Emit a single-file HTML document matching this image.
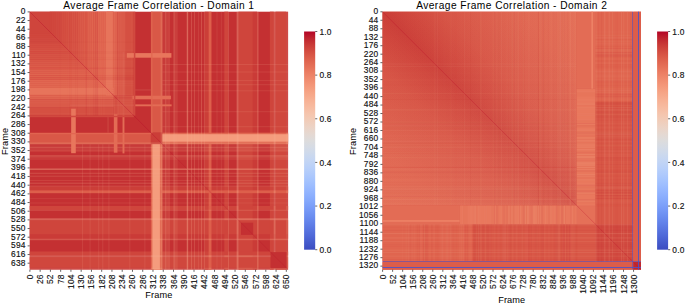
<!DOCTYPE html>
<html><head><meta charset="utf-8"><title>Average Frame Correlation</title>
<style>html,body{margin:0;padding:0;background:#fff;width:685px;height:304px;overflow:hidden}svg{display:block}</style>
</head><body><svg width="685" height="304" viewBox="0 0 685 304" font-family='"Liberation Sans", sans-serif'><defs><linearGradient id="cbg" x1="0" y1="0" x2="0" y2="1"><stop offset="0.0000" stop-color="#b40426"/><stop offset="0.0312" stop-color="#be242e"/><stop offset="0.0625" stop-color="#ca3b37"/><stop offset="0.0938" stop-color="#d44e41"/><stop offset="0.1250" stop-color="#dd5f4b"/><stop offset="0.1562" stop-color="#e46e56"/><stop offset="0.1875" stop-color="#eb7d62"/><stop offset="0.2188" stop-color="#f08b6e"/><stop offset="0.2500" stop-color="#f4987a"/><stop offset="0.2812" stop-color="#f6a586"/><stop offset="0.3125" stop-color="#f7b093"/><stop offset="0.3438" stop-color="#f7ba9f"/><stop offset="0.3750" stop-color="#f5c4ac"/><stop offset="0.4062" stop-color="#f1ccb8"/><stop offset="0.4375" stop-color="#ecd3c5"/><stop offset="0.4688" stop-color="#e5d8d1"/><stop offset="0.5000" stop-color="#dddcdc"/><stop offset="0.5312" stop-color="#d5dbe5"/><stop offset="0.5625" stop-color="#ccd9ed"/><stop offset="0.5938" stop-color="#c3d5f4"/><stop offset="0.6250" stop-color="#b9d0f9"/><stop offset="0.6562" stop-color="#aec9fc"/><stop offset="0.6875" stop-color="#a3c2fe"/><stop offset="0.7188" stop-color="#98b9ff"/><stop offset="0.7500" stop-color="#8db0fe"/><stop offset="0.7812" stop-color="#82a6fb"/><stop offset="0.8125" stop-color="#779af7"/><stop offset="0.8438" stop-color="#6c8ff1"/><stop offset="0.8750" stop-color="#6282ea"/><stop offset="0.9062" stop-color="#5875e1"/><stop offset="0.9375" stop-color="#4e68d8"/><stop offset="0.9688" stop-color="#445acc"/><stop offset="1.0000" stop-color="#3b4cc0"/></linearGradient></defs>
<g transform="translate(29.70,11.70) scale(1.00155,1.00000)"><rect x="0" y="0" width="258" height="258" fill="#c43032"/><rect x="0" y="0" width="84" height="84" fill="#cf453c"/><rect x="20" y="0" width="2" height="84" fill="#cf453c"/><rect x="0" y="20" width="84" height="2" fill="#cf453c"/><rect x="22" y="0" width="2" height="84" fill="#d0473d"/><rect x="0" y="22" width="84" height="2" fill="#d0473d"/><rect x="24" y="0" width="2" height="84" fill="#d0473d"/><rect x="0" y="24" width="84" height="2" fill="#d0473d"/><rect x="26" y="0" width="2" height="84" fill="#d1493f"/><rect x="0" y="26" width="84" height="2" fill="#d1493f"/><rect x="28" y="0" width="2" height="84" fill="#d1493f"/><rect x="0" y="28" width="84" height="2" fill="#d1493f"/><rect x="30" y="0" width="2" height="84" fill="#d24b40"/><rect x="0" y="30" width="84" height="2" fill="#d24b40"/><rect x="32" y="0" width="2" height="84" fill="#d44e41"/><rect x="0" y="32" width="84" height="2" fill="#d44e41"/><rect x="34" y="0" width="2" height="84" fill="#d44e41"/><rect x="0" y="34" width="84" height="2" fill="#d44e41"/><rect x="36" y="0" width="2" height="84" fill="#d55042"/><rect x="0" y="36" width="84" height="2" fill="#d55042"/><rect x="38" y="0" width="2" height="84" fill="#d65244"/><rect x="0" y="38" width="84" height="2" fill="#d65244"/><rect x="40" y="0" width="2" height="84" fill="#d65244"/><rect x="0" y="40" width="84" height="2" fill="#d65244"/><rect x="42" y="0" width="2" height="84" fill="#d75445"/><rect x="0" y="42" width="84" height="2" fill="#d75445"/><rect x="44" y="0" width="2" height="84" fill="#d75445"/><rect x="0" y="44" width="84" height="2" fill="#d75445"/><rect x="46" y="0" width="2" height="84" fill="#d85646"/><rect x="0" y="46" width="84" height="2" fill="#d85646"/><rect x="48" y="0" width="2" height="84" fill="#d95847"/><rect x="0" y="48" width="84" height="2" fill="#d95847"/><rect x="50" y="0" width="2" height="84" fill="#da5a49"/><rect x="0" y="50" width="84" height="2" fill="#da5a49"/><rect x="52" y="0" width="2" height="84" fill="#da5a49"/><rect x="0" y="52" width="84" height="2" fill="#da5a49"/><rect x="54" y="0" width="2" height="84" fill="#dc5d4a"/><rect x="0" y="54" width="84" height="2" fill="#dc5d4a"/><rect x="56" y="0" width="2" height="84" fill="#dd5f4b"/><rect x="0" y="56" width="84" height="2" fill="#dd5f4b"/><rect x="58" y="0" width="2" height="84" fill="#de614d"/><rect x="0" y="58" width="84" height="2" fill="#de614d"/><rect x="60" y="0" width="2" height="84" fill="#de614d"/><rect x="0" y="60" width="84" height="2" fill="#de614d"/><rect x="62" y="0" width="2" height="84" fill="#e0654f"/><rect x="0" y="62" width="84" height="2" fill="#e0654f"/><rect x="64" y="0" width="2" height="84" fill="#e0654f"/><rect x="0" y="64" width="84" height="2" fill="#e0654f"/><rect x="66" y="0" width="2" height="84" fill="#e0654f"/><rect x="0" y="66" width="84" height="2" fill="#e0654f"/><rect x="68" y="0" width="2" height="84" fill="#e16751"/><rect x="0" y="68" width="84" height="2" fill="#e16751"/><rect x="70" y="0" width="2" height="84" fill="#e16751"/><rect x="0" y="70" width="84" height="2" fill="#e16751"/><rect x="72" y="0" width="2" height="84" fill="#e16751"/><rect x="0" y="72" width="84" height="2" fill="#e16751"/><rect x="74" y="0" width="2" height="84" fill="#e16751"/><rect x="0" y="74" width="84" height="2" fill="#e16751"/><rect x="82" y="0" width="2" height="84" fill="#e16751"/><rect x="0" y="82" width="84" height="2" fill="#e16751"/><rect x="76" y="0" width="2" height="84" fill="#e7745b"/><rect x="0" y="76" width="84" height="2" fill="#e7745b"/><rect x="78" y="0" width="2" height="84" fill="#e7745b"/><rect x="0" y="78" width="84" height="2" fill="#e7745b"/><rect x="80" y="0" width="2" height="84" fill="#e7745b"/><rect x="0" y="80" width="84" height="2" fill="#e7745b"/><rect x="77" y="0" width="6" height="77" fill="#e7745b"/><rect x="0" y="77" width="77" height="6" fill="#e7745b"/><rect x="84" y="0" width="3.5" height="84" fill="#e16751"/><rect x="0" y="84" width="84" height="3.5" fill="#e16751"/><rect x="87.5" y="0" width="8.5" height="84" fill="#da5a49"/><rect x="0" y="87.5" width="84" height="8.5" fill="#da5a49"/><rect x="96" y="0" width="8" height="84" fill="#d55042"/><rect x="0" y="96" width="84" height="8" fill="#d55042"/><rect x="84" y="84" width="20" height="20" fill="#d65244"/><rect x="121" y="0" width="11.5" height="121" fill="#d95847"/><rect x="0" y="121" width="121" height="11.5" fill="#d95847"/><rect x="121" y="121" width="11.5" height="11.5" fill="#cb3e38"/><rect x="30" y="0" width="0.76" height="104" fill="#b40426" fill-opacity="0.045"/><rect x="0" y="30" width="104" height="0.76" fill="#b40426" fill-opacity="0.045"/><rect x="35.79" y="0" width="1.37" height="104" fill="#f7ac8e" fill-opacity="0.021"/><rect x="0" y="35.79" width="104" height="1.37" fill="#f7ac8e" fill-opacity="0.021"/><rect x="37.59" y="0" width="1.4" height="104" fill="#f7ac8e" fill-opacity="0.021"/><rect x="0" y="37.59" width="104" height="1.4" fill="#f7ac8e" fill-opacity="0.021"/><rect x="39.49" y="0" width="1.17" height="104" fill="#b40426" fill-opacity="0.045"/><rect x="0" y="39.49" width="104" height="1.17" fill="#b40426" fill-opacity="0.045"/><rect x="41.1" y="0" width="0.88" height="104" fill="#b40426" fill-opacity="0.045"/><rect x="0" y="41.1" width="104" height="0.88" fill="#b40426" fill-opacity="0.045"/><rect x="45.22" y="0" width="0.7" height="104" fill="#b40426" fill-opacity="0.045"/><rect x="0" y="45.22" width="104" height="0.7" fill="#b40426" fill-opacity="0.045"/><rect x="47.07" y="0" width="1.14" height="104" fill="#b40426" fill-opacity="0.045"/><rect x="0" y="47.07" width="104" height="1.14" fill="#b40426" fill-opacity="0.045"/><rect x="49.09" y="0" width="0.96" height="104" fill="#f7ac8e" fill-opacity="0.021"/><rect x="0" y="49.09" width="104" height="0.96" fill="#f7ac8e" fill-opacity="0.021"/><rect x="55.87" y="0" width="1.32" height="104" fill="#b40426" fill-opacity="0.099"/><rect x="0" y="55.87" width="104" height="1.32" fill="#b40426" fill-opacity="0.099"/><rect x="58.97" y="0" width="0.86" height="104" fill="#f7ac8e" fill-opacity="0.046"/><rect x="0" y="58.97" width="104" height="0.86" fill="#f7ac8e" fill-opacity="0.046"/><rect x="63.57" y="0" width="0.93" height="104" fill="#b40426" fill-opacity="0.099"/><rect x="0" y="63.57" width="104" height="0.93" fill="#b40426" fill-opacity="0.099"/><rect x="65.32" y="0" width="1.26" height="104" fill="#b40426" fill-opacity="0.099"/><rect x="0" y="65.32" width="104" height="1.26" fill="#b40426" fill-opacity="0.099"/><rect x="66.9" y="0" width="1.29" height="104" fill="#b40426" fill-opacity="0.099"/><rect x="0" y="66.9" width="104" height="1.29" fill="#b40426" fill-opacity="0.099"/><rect x="69.34" y="0" width="1.26" height="104" fill="#f7ac8e" fill-opacity="0.046"/><rect x="0" y="69.34" width="104" height="1.26" fill="#f7ac8e" fill-opacity="0.046"/><rect x="71.38" y="0" width="0.92" height="104" fill="#f7ac8e" fill-opacity="0.046"/><rect x="0" y="71.38" width="104" height="0.92" fill="#f7ac8e" fill-opacity="0.046"/><rect x="73.52" y="0" width="1.19" height="104" fill="#f7ac8e" fill-opacity="0.046"/><rect x="0" y="73.52" width="104" height="1.19" fill="#f7ac8e" fill-opacity="0.046"/><rect x="82.23" y="0" width="0.62" height="104" fill="#f7ac8e" fill-opacity="0.046"/><rect x="0" y="82.23" width="104" height="0.62" fill="#f7ac8e" fill-opacity="0.046"/><rect x="83.69" y="0" width="1.16" height="104" fill="#f7ac8e" fill-opacity="0.046"/><rect x="0" y="83.69" width="104" height="1.16" fill="#f7ac8e" fill-opacity="0.046"/><rect x="85.66" y="0" width="0.93" height="104" fill="#b40426" fill-opacity="0.099"/><rect x="0" y="85.66" width="104" height="0.93" fill="#b40426" fill-opacity="0.099"/><rect x="87.84" y="0" width="1.35" height="104" fill="#f7ac8e" fill-opacity="0.046"/><rect x="0" y="87.84" width="104" height="1.35" fill="#f7ac8e" fill-opacity="0.046"/><rect x="90.54" y="0" width="1.18" height="104" fill="#f7ac8e" fill-opacity="0.046"/><rect x="0" y="90.54" width="104" height="1.18" fill="#f7ac8e" fill-opacity="0.046"/><rect x="101.3" y="0" width="0.91" height="104" fill="#f7ac8e" fill-opacity="0.046"/><rect x="0" y="101.3" width="104" height="0.91" fill="#f7ac8e" fill-opacity="0.046"/><rect x="103.68" y="0" width="1.16" height="104" fill="#b40426" fill-opacity="0.099"/><rect x="0" y="103.68" width="104" height="1.16" fill="#b40426" fill-opacity="0.099"/><rect x="222.8" y="0" width="4.2" height="258" fill="#ca3b37"/><rect x="0" y="222.8" width="258" height="4.2" fill="#ca3b37"/><rect x="174.8" y="0" width="3.8" height="258" fill="#cb3e38"/><rect x="0" y="174.8" width="258" height="3.8" fill="#cb3e38"/><rect x="194.3" y="0" width="3.8" height="258" fill="#cf453c"/><rect x="0" y="194.3" width="258" height="3.8" fill="#cf453c"/><rect x="208.5" y="0" width="14.3" height="258" fill="#cf453c"/><rect x="0" y="208.5" width="258" height="14.3" fill="#cf453c"/><rect x="239.8" y="0" width="3.8" height="258" fill="#cf453c"/><rect x="0" y="239.8" width="258" height="3.8" fill="#cf453c"/><rect x="245.5" y="0" width="10.5" height="258" fill="#d0473d"/><rect x="0" y="245.5" width="258" height="10.5" fill="#d0473d"/><rect x="178.6" y="0" width="2.9" height="258" fill="#dd5f4b"/><rect x="0" y="178.6" width="258" height="2.9" fill="#dd5f4b"/><rect x="121" y="132.5" width="11.5" height="125.5" fill="#e16751"/><rect x="132.5" y="121" width="125.5" height="11.5" fill="#e16751"/><rect x="122.5" y="132.5" width="7.5" height="125.5" fill="#f59c7d"/><rect x="132.5" y="122.5" width="125.5" height="7.5" fill="#f59c7d"/><rect x="130.7" y="0" width="1.9" height="258" fill="#f7ac8e" fill-opacity="0.219"/><rect x="0" y="130.7" width="258" height="1.9" fill="#f7ac8e" fill-opacity="0.219"/><rect x="132.6" y="0" width="2.4" height="258" fill="#f7ac8e" fill-opacity="0.088"/><rect x="0" y="132.6" width="258" height="2.4" fill="#f7ac8e" fill-opacity="0.088"/><rect x="135" y="0" width="1.4" height="258" fill="#f7ac8e" fill-opacity="0.263"/><rect x="0" y="135" width="258" height="1.4" fill="#f7ac8e" fill-opacity="0.263"/><rect x="136.4" y="0" width="2.4" height="258" fill="#f7ac8e" fill-opacity="0.131"/><rect x="0" y="136.4" width="258" height="2.4" fill="#f7ac8e" fill-opacity="0.131"/><rect x="138.8" y="0" width="0.9" height="258" fill="#f7ac8e" fill-opacity="0.263"/><rect x="0" y="138.8" width="258" height="0.9" fill="#f7ac8e" fill-opacity="0.263"/><rect x="143.5" y="0" width="1.5" height="258" fill="#f7ac8e" fill-opacity="0.263"/><rect x="0" y="143.5" width="258" height="1.5" fill="#f7ac8e" fill-opacity="0.263"/><rect x="145" y="0" width="1.4" height="258" fill="#f7ac8e" fill-opacity="0.131"/><rect x="0" y="145" width="258" height="1.4" fill="#f7ac8e" fill-opacity="0.131"/><rect x="146.4" y="0" width="0.5" height="258" fill="#f7ac8e" fill-opacity="0.175"/><rect x="0" y="146.4" width="258" height="0.5" fill="#f7ac8e" fill-opacity="0.175"/><rect x="147.3" y="0" width="0.7" height="258" fill="#f7ac8e" fill-opacity="0.131"/><rect x="0" y="147.3" width="258" height="0.7" fill="#f7ac8e" fill-opacity="0.131"/><rect x="156.8" y="0" width="1.4" height="258" fill="#f7ac8e" fill-opacity="0.438"/><rect x="0" y="156.8" width="258" height="1.4" fill="#f7ac8e" fill-opacity="0.438"/><rect x="161.1" y="0" width="0.9" height="258" fill="#f7ac8e" fill-opacity="0.263"/><rect x="0" y="161.1" width="258" height="0.9" fill="#f7ac8e" fill-opacity="0.263"/><rect x="164" y="0" width="1" height="258" fill="#f7ac8e" fill-opacity="0.219"/><rect x="0" y="164" width="258" height="1" fill="#f7ac8e" fill-opacity="0.219"/><rect x="168.3" y="0" width="0.8" height="258" fill="#f7ac8e" fill-opacity="0.175"/><rect x="0" y="168.3" width="258" height="0.8" fill="#f7ac8e" fill-opacity="0.175"/><rect x="171" y="0" width="1" height="258" fill="#f7ac8e" fill-opacity="0.263"/><rect x="0" y="171" width="258" height="1" fill="#f7ac8e" fill-opacity="0.263"/><rect x="174" y="0" width="0.8" height="258" fill="#f7ac8e" fill-opacity="0.263"/><rect x="0" y="174" width="258" height="0.8" fill="#f7ac8e" fill-opacity="0.263"/><rect x="186.6" y="0" width="0.8" height="258" fill="#f7ac8e" fill-opacity="0.153"/><rect x="0" y="186.6" width="258" height="0.8" fill="#f7ac8e" fill-opacity="0.153"/><rect x="190.9" y="0" width="0.8" height="258" fill="#f7ac8e" fill-opacity="0.153"/><rect x="0" y="190.9" width="258" height="0.8" fill="#f7ac8e" fill-opacity="0.153"/><rect x="198.1" y="0" width="0.9" height="258" fill="#f7ac8e" fill-opacity="0.263"/><rect x="0" y="198.1" width="258" height="0.9" fill="#f7ac8e" fill-opacity="0.263"/><rect x="206.6" y="0" width="1.9" height="258" fill="#f7ac8e" fill-opacity="0.394"/><rect x="0" y="206.6" width="258" height="1.9" fill="#f7ac8e" fill-opacity="0.394"/><rect x="227" y="0" width="1.5" height="258" fill="#f7ac8e" fill-opacity="0.307"/><rect x="0" y="227" width="258" height="1.5" fill="#f7ac8e" fill-opacity="0.307"/><rect x="243.6" y="0" width="1.9" height="258" fill="#f7ac8e" fill-opacity="0.350"/><rect x="0" y="243.6" width="258" height="1.9" fill="#f7ac8e" fill-opacity="0.350"/><rect x="256" y="0" width="2" height="258" fill="#f7ac8e" fill-opacity="0.219"/><rect x="0" y="256" width="258" height="2" fill="#f7ac8e" fill-opacity="0.219"/><rect x="211" y="211" width="12.2" height="12.2" fill="#c43032"/><rect x="240.4" y="240.4" width="16.1" height="16.1" fill="#c43032"/><rect x="41.4" y="97" width="4.6" height="44.5" fill="#e8765c"/><rect x="97" y="41.4" width="44.5" height="4.6" fill="#e8765c"/><rect x="84" y="102.6" width="3.6" height="38.4" fill="#e36c55"/><rect x="102.6" y="84" width="38.4" height="3.6" fill="#e36c55"/><rect x="92.7" y="104" width="1.9" height="37.7" fill="#e36c55"/><rect x="104" y="92.7" width="37.7" height="1.9" fill="#e36c55"/><rect x="92.7" y="40" width="1.9" height="64" fill="#f7ac8e" fill-opacity="0.084"/><rect x="40" y="92.7" width="64" height="1.9" fill="#f7ac8e" fill-opacity="0.084"/><rect x="77.5" y="104" width="1.5" height="17" fill="#f7ac8e" fill-opacity="0.125"/><rect x="104" y="77.5" width="17" height="1.5" fill="#f7ac8e" fill-opacity="0.125"/><rect x="104" y="0" width="1.5" height="104" fill="#d1493f"/><rect x="0" y="104" width="104" height="1.5" fill="#d1493f"/><rect x="121.4" y="0" width="1.1" height="121.4" fill="#e16751"/><rect x="0" y="121.4" width="121.4" height="1.1" fill="#e16751"/><rect x="52.3" y="132.5" width="1" height="125.5" fill="#f7ac8e" fill-opacity="0.146"/><rect x="132.5" y="52.3" width="125.5" height="1" fill="#f7ac8e" fill-opacity="0.146"/><rect x="59.8" y="132.5" width="1" height="125.5" fill="#f7ac8e" fill-opacity="0.146"/><rect x="132.5" y="59.8" width="125.5" height="1" fill="#f7ac8e" fill-opacity="0.146"/><rect x="68.4" y="132.5" width="1" height="125.5" fill="#f7ac8e" fill-opacity="0.146"/><rect x="132.5" y="68.4" width="125.5" height="1" fill="#f7ac8e" fill-opacity="0.146"/><rect x="72.5" y="132.5" width="1" height="125.5" fill="#f7ac8e" fill-opacity="0.146"/><rect x="132.5" y="72.5" width="125.5" height="1" fill="#f7ac8e" fill-opacity="0.146"/><rect x="78.6" y="132.5" width="1" height="125.5" fill="#f7ac8e" fill-opacity="0.146"/><rect x="132.5" y="78.6" width="125.5" height="1" fill="#f7ac8e" fill-opacity="0.146"/><rect x="99.5" y="132.5" width="1" height="125.5" fill="#f7ac8e" fill-opacity="0.146"/><rect x="132.5" y="99.5" width="125.5" height="1" fill="#f7ac8e" fill-opacity="0.146"/><rect x="114.5" y="132.5" width="1" height="125.5" fill="#f7ac8e" fill-opacity="0.146"/><rect x="132.5" y="114.5" width="125.5" height="1" fill="#f7ac8e" fill-opacity="0.146"/><line x1="0" y1="0" x2="132" y2="132" stroke="#b40426" stroke-width="0.7" stroke-opacity="0.45"/><line x1="132" y1="132" x2="258" y2="258" stroke="#b40426" stroke-width="0.7" stroke-opacity="0.25"/></g>
<g transform="translate(382.50,11.70) scale(1.00194,1.00000)"><defs><linearGradient id="gM" gradientUnits="userSpaceOnUse" x1="0" y1="0" x2="96.9" y2="-96.9" spreadMethod="reflect"><stop offset="0.000" stop-color="#cb3e38"/><stop offset="0.100" stop-color="#cf453c"/><stop offset="0.300" stop-color="#d65244"/><stop offset="0.500" stop-color="#da5a49"/><stop offset="0.700" stop-color="#de614d"/><stop offset="1.000" stop-color="#e16751"/></linearGradient><linearGradient id="oX" x1="0" y1="0" x2="1" y2="0"><stop offset="0.000" stop-color="#f7ac8e" stop-opacity="0.0000"/><stop offset="0.300" stop-color="#f7ac8e" stop-opacity="0.0251"/><stop offset="0.600" stop-color="#f7ac8e" stop-opacity="0.0753"/><stop offset="1.000" stop-color="#f7ac8e" stop-opacity="0.1422"/></linearGradient><linearGradient id="oY" x1="0" y1="0" x2="0" y2="1"><stop offset="0.000" stop-color="#f7ac8e" stop-opacity="0.0000"/><stop offset="0.300" stop-color="#f7ac8e" stop-opacity="0.0251"/><stop offset="0.600" stop-color="#f7ac8e" stop-opacity="0.0753"/><stop offset="1.000" stop-color="#f7ac8e" stop-opacity="0.1422"/></linearGradient></defs><rect x="0" y="0" width="258" height="258" fill="#da5a49"/><rect x="0" y="0" width="193.8" height="193.8" fill="url(#gM)"/><rect x="0" y="0" width="193.8" height="193.8" fill="url(#oX)"/><rect x="0" y="0" width="193.8" height="193.8" fill="url(#oY)"/><rect x="51.74" y="0" width="1.18" height="193.8" fill="#f7ac8e" fill-opacity="0.081"/><rect x="0" y="51.74" width="193.8" height="1.18" fill="#f7ac8e" fill-opacity="0.081"/><rect x="190.41" y="0" width="0.94" height="193.8" fill="#f7ac8e" fill-opacity="0.027"/><rect x="0" y="190.41" width="193.8" height="0.94" fill="#f7ac8e" fill-opacity="0.027"/><rect x="81.29" y="0" width="0.9" height="193.8" fill="#f7ac8e" fill-opacity="0.088"/><rect x="0" y="81.29" width="193.8" height="0.9" fill="#f7ac8e" fill-opacity="0.088"/><rect x="98.59" y="0" width="0.47" height="193.8" fill="#f7ac8e" fill-opacity="0.097"/><rect x="0" y="98.59" width="193.8" height="0.47" fill="#f7ac8e" fill-opacity="0.097"/><rect x="72.82" y="0" width="0.85" height="193.8" fill="#b40426" fill-opacity="0.021"/><rect x="0" y="72.82" width="193.8" height="0.85" fill="#b40426" fill-opacity="0.021"/><rect x="132.36" y="0" width="1.35" height="193.8" fill="#f7ac8e" fill-opacity="0.067"/><rect x="0" y="132.36" width="193.8" height="1.35" fill="#f7ac8e" fill-opacity="0.067"/><rect x="179.82" y="0" width="0.53" height="193.8" fill="#f7ac8e" fill-opacity="0.084"/><rect x="0" y="179.82" width="193.8" height="0.53" fill="#f7ac8e" fill-opacity="0.084"/><rect x="142.89" y="0" width="0.87" height="193.8" fill="#f7ac8e" fill-opacity="0.062"/><rect x="0" y="142.89" width="193.8" height="0.87" fill="#f7ac8e" fill-opacity="0.062"/><rect x="97.27" y="0" width="0.88" height="193.8" fill="#f7ac8e" fill-opacity="0.091"/><rect x="0" y="97.27" width="193.8" height="0.88" fill="#f7ac8e" fill-opacity="0.091"/><rect x="158.22" y="0" width="0.71" height="193.8" fill="#f7ac8e" fill-opacity="0.044"/><rect x="0" y="158.22" width="193.8" height="0.71" fill="#f7ac8e" fill-opacity="0.044"/><rect x="109.65" y="0" width="0.75" height="193.8" fill="#f7ac8e" fill-opacity="0.052"/><rect x="0" y="109.65" width="193.8" height="0.75" fill="#f7ac8e" fill-opacity="0.052"/><rect x="110.61" y="0" width="1.12" height="193.8" fill="#f7ac8e" fill-opacity="0.097"/><rect x="0" y="110.61" width="193.8" height="1.12" fill="#f7ac8e" fill-opacity="0.097"/><rect x="67.75" y="0" width="1.14" height="193.8" fill="#f7ac8e" fill-opacity="0.057"/><rect x="0" y="67.75" width="193.8" height="1.14" fill="#f7ac8e" fill-opacity="0.057"/><rect x="137.57" y="0" width="0.92" height="193.8" fill="#f7ac8e" fill-opacity="0.021"/><rect x="0" y="137.57" width="193.8" height="0.92" fill="#f7ac8e" fill-opacity="0.021"/><rect x="54.19" y="0" width="1.11" height="193.8" fill="#f7ac8e" fill-opacity="0.079"/><rect x="0" y="54.19" width="193.8" height="1.11" fill="#f7ac8e" fill-opacity="0.079"/><rect x="186.95" y="0" width="1.08" height="193.8" fill="#f7ac8e" fill-opacity="0.047"/><rect x="0" y="186.95" width="193.8" height="1.08" fill="#f7ac8e" fill-opacity="0.047"/><rect x="131.14" y="0" width="0.64" height="193.8" fill="#b40426" fill-opacity="0.058"/><rect x="0" y="131.14" width="193.8" height="0.64" fill="#b40426" fill-opacity="0.058"/><rect x="170.48" y="0" width="0.87" height="193.8" fill="#b40426" fill-opacity="0.025"/><rect x="0" y="170.48" width="193.8" height="0.87" fill="#b40426" fill-opacity="0.025"/><rect x="87.48" y="0" width="0.86" height="193.8" fill="#b40426" fill-opacity="0.039"/><rect x="0" y="87.48" width="193.8" height="0.86" fill="#b40426" fill-opacity="0.039"/><rect x="61.05" y="0" width="0.74" height="193.8" fill="#f7ac8e" fill-opacity="0.046"/><rect x="0" y="61.05" width="193.8" height="0.74" fill="#f7ac8e" fill-opacity="0.046"/><rect x="123.87" y="0" width="0.81" height="193.8" fill="#f7ac8e" fill-opacity="0.086"/><rect x="0" y="123.87" width="193.8" height="0.81" fill="#f7ac8e" fill-opacity="0.086"/><rect x="176.74" y="0" width="0.92" height="193.8" fill="#f7ac8e" fill-opacity="0.086"/><rect x="0" y="176.74" width="193.8" height="0.92" fill="#f7ac8e" fill-opacity="0.086"/><rect x="184.35" y="0" width="1.07" height="193.8" fill="#b40426" fill-opacity="0.058"/><rect x="0" y="184.35" width="193.8" height="1.07" fill="#b40426" fill-opacity="0.058"/><rect x="113.41" y="0" width="1.28" height="193.8" fill="#f7ac8e" fill-opacity="0.061"/><rect x="0" y="113.41" width="193.8" height="1.28" fill="#f7ac8e" fill-opacity="0.061"/><rect x="176.77" y="0" width="1.12" height="193.8" fill="#f7ac8e" fill-opacity="0.076"/><rect x="0" y="176.77" width="193.8" height="1.12" fill="#f7ac8e" fill-opacity="0.076"/><rect x="115.8" y="0" width="0.76" height="193.8" fill="#b40426" fill-opacity="0.037"/><rect x="0" y="115.8" width="193.8" height="0.76" fill="#b40426" fill-opacity="0.037"/><rect x="160.27" y="0" width="1.13" height="193.8" fill="#b40426" fill-opacity="0.050"/><rect x="0" y="160.27" width="193.8" height="1.13" fill="#b40426" fill-opacity="0.050"/><rect x="110.6" y="0" width="0.82" height="193.8" fill="#f7ac8e" fill-opacity="0.026"/><rect x="0" y="110.6" width="193.8" height="0.82" fill="#f7ac8e" fill-opacity="0.026"/><rect x="155.37" y="0" width="1.01" height="193.8" fill="#b40426" fill-opacity="0.058"/><rect x="0" y="155.37" width="193.8" height="1.01" fill="#b40426" fill-opacity="0.058"/><rect x="120.74" y="0" width="0.63" height="193.8" fill="#f7ac8e" fill-opacity="0.032"/><rect x="0" y="120.74" width="193.8" height="0.63" fill="#f7ac8e" fill-opacity="0.032"/><rect x="128.78" y="0" width="0.97" height="193.8" fill="#f7ac8e" fill-opacity="0.086"/><rect x="0" y="128.78" width="193.8" height="0.97" fill="#f7ac8e" fill-opacity="0.086"/><rect x="181.81" y="0" width="0.43" height="193.8" fill="#f7ac8e" fill-opacity="0.088"/><rect x="0" y="181.81" width="193.8" height="0.43" fill="#f7ac8e" fill-opacity="0.088"/><rect x="191.72" y="0" width="0.67" height="193.8" fill="#f7ac8e" fill-opacity="0.094"/><rect x="0" y="191.72" width="193.8" height="0.67" fill="#f7ac8e" fill-opacity="0.094"/><rect x="186.19" y="0" width="0.6" height="193.8" fill="#f7ac8e" fill-opacity="0.081"/><rect x="0" y="186.19" width="193.8" height="0.6" fill="#f7ac8e" fill-opacity="0.081"/><rect x="180.84" y="0" width="0.57" height="193.8" fill="#f7ac8e" fill-opacity="0.088"/><rect x="0" y="180.84" width="193.8" height="0.57" fill="#f7ac8e" fill-opacity="0.088"/><rect x="156.07" y="0" width="0.56" height="193.8" fill="#f7ac8e" fill-opacity="0.044"/><rect x="0" y="156.07" width="193.8" height="0.56" fill="#f7ac8e" fill-opacity="0.044"/><rect x="177.7" y="0" width="0.44" height="193.8" fill="#f7ac8e" fill-opacity="0.051"/><rect x="0" y="177.7" width="193.8" height="0.44" fill="#f7ac8e" fill-opacity="0.051"/><rect x="115.33" y="0" width="0.55" height="193.8" fill="#f7ac8e" fill-opacity="0.065"/><rect x="0" y="115.33" width="193.8" height="0.55" fill="#f7ac8e" fill-opacity="0.065"/><rect x="168.38" y="0" width="0.83" height="193.8" fill="#f7ac8e" fill-opacity="0.049"/><rect x="0" y="168.38" width="193.8" height="0.83" fill="#f7ac8e" fill-opacity="0.049"/><rect x="159.47" y="0" width="1.34" height="193.8" fill="#b40426" fill-opacity="0.030"/><rect x="0" y="159.47" width="193.8" height="1.34" fill="#b40426" fill-opacity="0.030"/><rect x="110.89" y="0" width="1.23" height="193.8" fill="#b40426" fill-opacity="0.038"/><rect x="0" y="110.89" width="193.8" height="1.23" fill="#b40426" fill-opacity="0.038"/><rect x="174.65" y="0" width="1.27" height="193.8" fill="#f7ac8e" fill-opacity="0.094"/><rect x="0" y="174.65" width="193.8" height="1.27" fill="#f7ac8e" fill-opacity="0.094"/><rect x="112" y="0" width="0.67" height="193.8" fill="#f7ac8e" fill-opacity="0.031"/><rect x="0" y="112" width="193.8" height="0.67" fill="#f7ac8e" fill-opacity="0.031"/><rect x="186.32" y="0" width="0.43" height="193.8" fill="#f7ac8e" fill-opacity="0.027"/><rect x="0" y="186.32" width="193.8" height="0.43" fill="#f7ac8e" fill-opacity="0.027"/><rect x="140.23" y="0" width="0.82" height="193.8" fill="#f7ac8e" fill-opacity="0.064"/><rect x="0" y="140.23" width="193.8" height="0.82" fill="#f7ac8e" fill-opacity="0.064"/><rect x="154.83" y="0" width="0.72" height="193.8" fill="#b40426" fill-opacity="0.026"/><rect x="0" y="154.83" width="193.8" height="0.72" fill="#b40426" fill-opacity="0.026"/><rect x="126.13" y="0" width="0.75" height="193.8" fill="#f7ac8e" fill-opacity="0.038"/><rect x="0" y="126.13" width="193.8" height="0.75" fill="#f7ac8e" fill-opacity="0.038"/><rect x="186.99" y="0" width="1.23" height="193.8" fill="#f7ac8e" fill-opacity="0.052"/><rect x="0" y="186.99" width="193.8" height="1.23" fill="#f7ac8e" fill-opacity="0.052"/><rect x="129.5" y="0" width="0.85" height="193.8" fill="#f7ac8e" fill-opacity="0.063"/><rect x="0" y="129.5" width="193.8" height="0.85" fill="#f7ac8e" fill-opacity="0.063"/><rect x="187.31" y="0" width="0.78" height="193.8" fill="#f7ac8e" fill-opacity="0.071"/><rect x="0" y="187.31" width="193.8" height="0.78" fill="#f7ac8e" fill-opacity="0.071"/><rect x="173.01" y="0" width="0.46" height="193.8" fill="#b40426" fill-opacity="0.058"/><rect x="0" y="173.01" width="193.8" height="0.46" fill="#b40426" fill-opacity="0.058"/><rect x="160.58" y="0" width="0.69" height="193.8" fill="#f7ac8e" fill-opacity="0.080"/><rect x="0" y="160.58" width="193.8" height="0.69" fill="#f7ac8e" fill-opacity="0.080"/><rect x="165.01" y="0" width="0.55" height="193.8" fill="#b40426" fill-opacity="0.058"/><rect x="0" y="165.01" width="193.8" height="0.55" fill="#b40426" fill-opacity="0.058"/><rect x="145.58" y="0" width="0.99" height="193.8" fill="#f7ac8e" fill-opacity="0.104"/><rect x="0" y="145.58" width="193.8" height="0.99" fill="#f7ac8e" fill-opacity="0.104"/><rect x="178.61" y="0" width="1.04" height="193.8" fill="#b40426" fill-opacity="0.028"/><rect x="0" y="178.61" width="193.8" height="1.04" fill="#b40426" fill-opacity="0.028"/><rect x="135.78" y="0" width="0.65" height="193.8" fill="#f7ac8e" fill-opacity="0.029"/><rect x="0" y="135.78" width="193.8" height="0.65" fill="#f7ac8e" fill-opacity="0.029"/><rect x="185.05" y="0" width="0.86" height="193.8" fill="#f7ac8e" fill-opacity="0.030"/><rect x="0" y="185.05" width="193.8" height="0.86" fill="#f7ac8e" fill-opacity="0.030"/><rect x="167.39" y="0" width="1.22" height="193.8" fill="#f7ac8e" fill-opacity="0.041"/><rect x="0" y="167.39" width="193.8" height="1.22" fill="#f7ac8e" fill-opacity="0.041"/><rect x="175.82" y="0" width="0.55" height="193.8" fill="#b40426" fill-opacity="0.043"/><rect x="0" y="175.82" width="193.8" height="0.55" fill="#b40426" fill-opacity="0.043"/><rect x="134.25" y="0" width="0.91" height="193.8" fill="#f7ac8e" fill-opacity="0.043"/><rect x="0" y="134.25" width="193.8" height="0.91" fill="#f7ac8e" fill-opacity="0.043"/><rect x="180.97" y="0" width="0.82" height="193.8" fill="#b40426" fill-opacity="0.053"/><rect x="0" y="180.97" width="193.8" height="0.82" fill="#b40426" fill-opacity="0.053"/><rect x="118.33" y="0" width="1.05" height="193.8" fill="#f7ac8e" fill-opacity="0.084"/><rect x="0" y="118.33" width="193.8" height="1.05" fill="#f7ac8e" fill-opacity="0.084"/><rect x="155.47" y="0" width="0.86" height="193.8" fill="#b40426" fill-opacity="0.022"/><rect x="0" y="155.47" width="193.8" height="0.86" fill="#b40426" fill-opacity="0.022"/><rect x="156.7" y="0" width="0.73" height="193.8" fill="#f7ac8e" fill-opacity="0.084"/><rect x="0" y="156.7" width="193.8" height="0.73" fill="#f7ac8e" fill-opacity="0.084"/><rect x="157.07" y="0" width="1.29" height="193.8" fill="#f7ac8e" fill-opacity="0.049"/><rect x="0" y="157.07" width="193.8" height="1.29" fill="#f7ac8e" fill-opacity="0.049"/><rect x="192.56" y="0" width="0.52" height="193.8" fill="#f7ac8e" fill-opacity="0.082"/><rect x="0" y="192.56" width="193.8" height="0.52" fill="#f7ac8e" fill-opacity="0.082"/><rect x="141.08" y="0" width="0.76" height="193.8" fill="#b40426" fill-opacity="0.033"/><rect x="0" y="141.08" width="193.8" height="0.76" fill="#b40426" fill-opacity="0.033"/><rect x="184.5" y="0" width="1.04" height="193.8" fill="#f7ac8e" fill-opacity="0.026"/><rect x="0" y="184.5" width="193.8" height="1.04" fill="#f7ac8e" fill-opacity="0.026"/><rect x="130.54" y="0" width="1.37" height="193.8" fill="#f7ac8e" fill-opacity="0.034"/><rect x="0" y="130.54" width="193.8" height="1.37" fill="#f7ac8e" fill-opacity="0.034"/><rect x="134.97" y="0" width="1.3" height="193.8" fill="#f7ac8e" fill-opacity="0.086"/><rect x="0" y="134.97" width="193.8" height="1.3" fill="#f7ac8e" fill-opacity="0.086"/><rect x="193.8" y="0" width="18.7" height="77" fill="#e36c55"/><rect x="0" y="193.8" width="77" height="18.7" fill="#e36c55"/><rect x="193.8" y="77" width="18.7" height="116.8" fill="#e9785d"/><rect x="77" y="193.8" width="116.8" height="18.7" fill="#e9785d"/><rect x="193.8" y="193.8" width="18.7" height="18.7" fill="#e57058"/><rect x="208.5" y="0" width="1.5" height="77" fill="#ee8468"/><rect x="0" y="208.5" width="77" height="1.5" fill="#ee8468"/><rect x="76" y="193.8" width="0.72" height="18.7" fill="#f7ac8e" fill-opacity="0.084"/><rect x="193.8" y="76" width="18.7" height="0.72" fill="#f7ac8e" fill-opacity="0.084"/><rect x="76.72" y="193.8" width="1.08" height="18.7" fill="#b40426" fill-opacity="0.025"/><rect x="193.8" y="76.72" width="18.7" height="1.08" fill="#b40426" fill-opacity="0.025"/><rect x="79.24" y="193.8" width="1.26" height="18.7" fill="#f7ac8e" fill-opacity="0.042"/><rect x="193.8" y="79.24" width="18.7" height="1.26" fill="#f7ac8e" fill-opacity="0.042"/><rect x="80.49" y="193.8" width="0.68" height="18.7" fill="#b40426" fill-opacity="0.025"/><rect x="193.8" y="80.49" width="18.7" height="0.68" fill="#b40426" fill-opacity="0.025"/><rect x="81.18" y="193.8" width="0.73" height="18.7" fill="#b40426" fill-opacity="0.025"/><rect x="193.8" y="81.18" width="18.7" height="0.73" fill="#b40426" fill-opacity="0.025"/><rect x="81.91" y="193.8" width="0.65" height="18.7" fill="#b40426" fill-opacity="0.025"/><rect x="193.8" y="81.91" width="18.7" height="0.65" fill="#b40426" fill-opacity="0.025"/><rect x="82.56" y="193.8" width="1.45" height="18.7" fill="#b40426" fill-opacity="0.025"/><rect x="193.8" y="82.56" width="18.7" height="1.45" fill="#b40426" fill-opacity="0.025"/><rect x="84.01" y="193.8" width="1.06" height="18.7" fill="#b40426" fill-opacity="0.025"/><rect x="193.8" y="84.01" width="18.7" height="1.06" fill="#b40426" fill-opacity="0.025"/><rect x="85.07" y="193.8" width="0.79" height="18.7" fill="#f7ac8e" fill-opacity="0.042"/><rect x="193.8" y="85.07" width="18.7" height="0.79" fill="#f7ac8e" fill-opacity="0.042"/><rect x="87.31" y="193.8" width="0.61" height="18.7" fill="#f7ac8e" fill-opacity="0.084"/><rect x="193.8" y="87.31" width="18.7" height="0.61" fill="#f7ac8e" fill-opacity="0.084"/><rect x="88.56" y="193.8" width="1.09" height="18.7" fill="#f7ac8e" fill-opacity="0.084"/><rect x="193.8" y="88.56" width="18.7" height="1.09" fill="#f7ac8e" fill-opacity="0.084"/><rect x="89.64" y="193.8" width="1.34" height="18.7" fill="#f7ac8e" fill-opacity="0.042"/><rect x="193.8" y="89.64" width="18.7" height="1.34" fill="#f7ac8e" fill-opacity="0.042"/><rect x="90.98" y="193.8" width="0.96" height="18.7" fill="#f7ac8e" fill-opacity="0.084"/><rect x="193.8" y="90.98" width="18.7" height="0.96" fill="#f7ac8e" fill-opacity="0.084"/><rect x="91.94" y="193.8" width="1.38" height="18.7" fill="#f7ac8e" fill-opacity="0.084"/><rect x="193.8" y="91.94" width="18.7" height="1.38" fill="#f7ac8e" fill-opacity="0.084"/><rect x="93.32" y="193.8" width="1.25" height="18.7" fill="#b40426" fill-opacity="0.025"/><rect x="193.8" y="93.32" width="18.7" height="1.25" fill="#b40426" fill-opacity="0.025"/><rect x="95.44" y="193.8" width="1.05" height="18.7" fill="#f7ac8e" fill-opacity="0.084"/><rect x="193.8" y="95.44" width="18.7" height="1.05" fill="#f7ac8e" fill-opacity="0.084"/><rect x="96.49" y="193.8" width="0.81" height="18.7" fill="#f7ac8e" fill-opacity="0.042"/><rect x="193.8" y="96.49" width="18.7" height="0.81" fill="#f7ac8e" fill-opacity="0.042"/><rect x="97.31" y="193.8" width="0.94" height="18.7" fill="#f7ac8e" fill-opacity="0.042"/><rect x="193.8" y="97.31" width="18.7" height="0.94" fill="#f7ac8e" fill-opacity="0.042"/><rect x="101.15" y="193.8" width="1.4" height="18.7" fill="#f7ac8e" fill-opacity="0.042"/><rect x="193.8" y="101.15" width="18.7" height="1.4" fill="#f7ac8e" fill-opacity="0.042"/><rect x="102.56" y="193.8" width="0.64" height="18.7" fill="#f7ac8e" fill-opacity="0.042"/><rect x="193.8" y="102.56" width="18.7" height="0.64" fill="#f7ac8e" fill-opacity="0.042"/><rect x="103.19" y="193.8" width="0.65" height="18.7" fill="#f7ac8e" fill-opacity="0.084"/><rect x="193.8" y="103.19" width="18.7" height="0.65" fill="#f7ac8e" fill-opacity="0.084"/><rect x="103.84" y="193.8" width="0.61" height="18.7" fill="#f7ac8e" fill-opacity="0.042"/><rect x="193.8" y="103.84" width="18.7" height="0.61" fill="#f7ac8e" fill-opacity="0.042"/><rect x="106.65" y="193.8" width="1.19" height="18.7" fill="#f7ac8e" fill-opacity="0.042"/><rect x="193.8" y="106.65" width="18.7" height="1.19" fill="#f7ac8e" fill-opacity="0.042"/><rect x="107.85" y="193.8" width="0.7" height="18.7" fill="#f7ac8e" fill-opacity="0.084"/><rect x="193.8" y="107.85" width="18.7" height="0.7" fill="#f7ac8e" fill-opacity="0.084"/><rect x="108.55" y="193.8" width="1.42" height="18.7" fill="#b40426" fill-opacity="0.025"/><rect x="193.8" y="108.55" width="18.7" height="1.42" fill="#b40426" fill-opacity="0.025"/><rect x="111.06" y="193.8" width="1.27" height="18.7" fill="#b40426" fill-opacity="0.075"/><rect x="193.8" y="111.06" width="18.7" height="1.27" fill="#b40426" fill-opacity="0.075"/><rect x="112.33" y="193.8" width="1.06" height="18.7" fill="#f7ac8e" fill-opacity="0.063"/><rect x="193.8" y="112.33" width="18.7" height="1.06" fill="#f7ac8e" fill-opacity="0.063"/><rect x="113.39" y="193.8" width="1.26" height="18.7" fill="#b40426" fill-opacity="0.075"/><rect x="193.8" y="113.39" width="18.7" height="1.26" fill="#b40426" fill-opacity="0.075"/><rect x="114.65" y="193.8" width="1.35" height="18.7" fill="#b40426" fill-opacity="0.037"/><rect x="193.8" y="114.65" width="18.7" height="1.35" fill="#b40426" fill-opacity="0.037"/><rect x="117.33" y="193.8" width="0.74" height="18.7" fill="#f7ac8e" fill-opacity="0.063"/><rect x="193.8" y="117.33" width="18.7" height="0.74" fill="#f7ac8e" fill-opacity="0.063"/><rect x="118.07" y="193.8" width="1.33" height="18.7" fill="#f7ac8e" fill-opacity="0.063"/><rect x="193.8" y="118.07" width="18.7" height="1.33" fill="#f7ac8e" fill-opacity="0.063"/><rect x="119.4" y="193.8" width="1.47" height="18.7" fill="#b40426" fill-opacity="0.037"/><rect x="193.8" y="119.4" width="18.7" height="1.47" fill="#b40426" fill-opacity="0.037"/><rect x="120.87" y="193.8" width="0.81" height="18.7" fill="#b40426" fill-opacity="0.075"/><rect x="193.8" y="120.87" width="18.7" height="0.81" fill="#b40426" fill-opacity="0.075"/><rect x="121.68" y="193.8" width="1.09" height="18.7" fill="#b40426" fill-opacity="0.037"/><rect x="193.8" y="121.68" width="18.7" height="1.09" fill="#b40426" fill-opacity="0.037"/><rect x="123.68" y="193.8" width="0.85" height="18.7" fill="#b40426" fill-opacity="0.075"/><rect x="193.8" y="123.68" width="18.7" height="0.85" fill="#b40426" fill-opacity="0.075"/><rect x="124.53" y="193.8" width="1.02" height="18.7" fill="#b40426" fill-opacity="0.037"/><rect x="193.8" y="124.53" width="18.7" height="1.02" fill="#b40426" fill-opacity="0.037"/><rect x="125.56" y="193.8" width="1" height="18.7" fill="#f7ac8e" fill-opacity="0.125"/><rect x="193.8" y="125.56" width="18.7" height="1" fill="#f7ac8e" fill-opacity="0.125"/><rect x="126.56" y="193.8" width="0.76" height="18.7" fill="#f7ac8e" fill-opacity="0.063"/><rect x="193.8" y="126.56" width="18.7" height="0.76" fill="#f7ac8e" fill-opacity="0.063"/><rect x="127.32" y="193.8" width="1.18" height="18.7" fill="#b40426" fill-opacity="0.037"/><rect x="193.8" y="127.32" width="18.7" height="1.18" fill="#b40426" fill-opacity="0.037"/><rect x="128.5" y="193.8" width="1.02" height="18.7" fill="#f7ac8e" fill-opacity="0.125"/><rect x="193.8" y="128.5" width="18.7" height="1.02" fill="#f7ac8e" fill-opacity="0.125"/><rect x="129.53" y="193.8" width="0.91" height="18.7" fill="#f7ac8e" fill-opacity="0.063"/><rect x="193.8" y="129.53" width="18.7" height="0.91" fill="#f7ac8e" fill-opacity="0.063"/><rect x="130.43" y="193.8" width="1.36" height="18.7" fill="#b40426" fill-opacity="0.037"/><rect x="193.8" y="130.43" width="18.7" height="1.36" fill="#b40426" fill-opacity="0.037"/><rect x="131.79" y="193.8" width="1.49" height="18.7" fill="#f7ac8e" fill-opacity="0.063"/><rect x="193.8" y="131.79" width="18.7" height="1.49" fill="#f7ac8e" fill-opacity="0.063"/><rect x="133.28" y="193.8" width="1.05" height="18.7" fill="#f7ac8e" fill-opacity="0.063"/><rect x="193.8" y="133.28" width="18.7" height="1.05" fill="#f7ac8e" fill-opacity="0.063"/><rect x="134.33" y="193.8" width="0.98" height="18.7" fill="#f7ac8e" fill-opacity="0.063"/><rect x="193.8" y="134.33" width="18.7" height="0.98" fill="#f7ac8e" fill-opacity="0.063"/><rect x="135.31" y="193.8" width="0.85" height="18.7" fill="#f7ac8e" fill-opacity="0.125"/><rect x="193.8" y="135.31" width="18.7" height="0.85" fill="#f7ac8e" fill-opacity="0.125"/><rect x="136.16" y="193.8" width="1.09" height="18.7" fill="#b40426" fill-opacity="0.037"/><rect x="193.8" y="136.16" width="18.7" height="1.09" fill="#b40426" fill-opacity="0.037"/><rect x="137.25" y="193.8" width="0.99" height="18.7" fill="#f7ac8e" fill-opacity="0.125"/><rect x="193.8" y="137.25" width="18.7" height="0.99" fill="#f7ac8e" fill-opacity="0.125"/><rect x="139.57" y="193.8" width="0.92" height="18.7" fill="#b40426" fill-opacity="0.037"/><rect x="193.8" y="139.57" width="18.7" height="0.92" fill="#b40426" fill-opacity="0.037"/><rect x="140.48" y="193.8" width="1.48" height="18.7" fill="#b40426" fill-opacity="0.075"/><rect x="193.8" y="140.48" width="18.7" height="1.48" fill="#b40426" fill-opacity="0.075"/><rect x="141.97" y="193.8" width="1.4" height="18.7" fill="#f7ac8e" fill-opacity="0.125"/><rect x="193.8" y="141.97" width="18.7" height="1.4" fill="#f7ac8e" fill-opacity="0.125"/><rect x="143.37" y="193.8" width="0.8" height="18.7" fill="#b40426" fill-opacity="0.037"/><rect x="193.8" y="143.37" width="18.7" height="0.8" fill="#b40426" fill-opacity="0.037"/><rect x="144.17" y="193.8" width="1.11" height="18.7" fill="#f7ac8e" fill-opacity="0.125"/><rect x="193.8" y="144.17" width="18.7" height="1.11" fill="#f7ac8e" fill-opacity="0.125"/><rect x="145.28" y="193.8" width="1.46" height="18.7" fill="#f7ac8e" fill-opacity="0.125"/><rect x="193.8" y="145.28" width="18.7" height="1.46" fill="#f7ac8e" fill-opacity="0.125"/><rect x="146.74" y="193.8" width="0.85" height="18.7" fill="#b40426" fill-opacity="0.075"/><rect x="193.8" y="146.74" width="18.7" height="0.85" fill="#b40426" fill-opacity="0.075"/><rect x="148.63" y="193.8" width="1.19" height="18.7" fill="#b40426" fill-opacity="0.075"/><rect x="193.8" y="148.63" width="18.7" height="1.19" fill="#b40426" fill-opacity="0.075"/><rect x="149.82" y="193.8" width="1.18" height="18.7" fill="#f7ac8e" fill-opacity="0.125"/><rect x="193.8" y="149.82" width="18.7" height="1.18" fill="#f7ac8e" fill-opacity="0.125"/><rect x="151" y="193.8" width="1.42" height="18.7" fill="#f7ac8e" fill-opacity="0.125"/><rect x="193.8" y="151" width="18.7" height="1.42" fill="#f7ac8e" fill-opacity="0.125"/><rect x="152.43" y="193.8" width="1.43" height="18.7" fill="#f7ac8e" fill-opacity="0.125"/><rect x="193.8" y="152.43" width="18.7" height="1.43" fill="#f7ac8e" fill-opacity="0.125"/><rect x="153.86" y="193.8" width="0.64" height="18.7" fill="#f7ac8e" fill-opacity="0.125"/><rect x="193.8" y="153.86" width="18.7" height="0.64" fill="#f7ac8e" fill-opacity="0.125"/><rect x="154.5" y="193.8" width="0.84" height="18.7" fill="#b40426" fill-opacity="0.037"/><rect x="193.8" y="154.5" width="18.7" height="0.84" fill="#b40426" fill-opacity="0.037"/><rect x="155.34" y="193.8" width="1.01" height="18.7" fill="#f7ac8e" fill-opacity="0.125"/><rect x="193.8" y="155.34" width="18.7" height="1.01" fill="#f7ac8e" fill-opacity="0.125"/><rect x="156.36" y="193.8" width="1.14" height="18.7" fill="#b40426" fill-opacity="0.037"/><rect x="193.8" y="156.36" width="18.7" height="1.14" fill="#b40426" fill-opacity="0.037"/><rect x="157.5" y="193.8" width="0.94" height="18.7" fill="#f7ac8e" fill-opacity="0.125"/><rect x="193.8" y="157.5" width="18.7" height="0.94" fill="#f7ac8e" fill-opacity="0.125"/><rect x="158.44" y="193.8" width="1.34" height="18.7" fill="#b40426" fill-opacity="0.075"/><rect x="193.8" y="158.44" width="18.7" height="1.34" fill="#b40426" fill-opacity="0.075"/><rect x="159.78" y="193.8" width="0.82" height="18.7" fill="#b40426" fill-opacity="0.037"/><rect x="193.8" y="159.78" width="18.7" height="0.82" fill="#b40426" fill-opacity="0.037"/><rect x="162.2" y="193.8" width="1.44" height="18.7" fill="#f7ac8e" fill-opacity="0.125"/><rect x="193.8" y="162.2" width="18.7" height="1.44" fill="#f7ac8e" fill-opacity="0.125"/><rect x="163.64" y="193.8" width="0.69" height="18.7" fill="#b40426" fill-opacity="0.037"/><rect x="193.8" y="163.64" width="18.7" height="0.69" fill="#b40426" fill-opacity="0.037"/><rect x="164.33" y="193.8" width="0.97" height="18.7" fill="#f7ac8e" fill-opacity="0.063"/><rect x="193.8" y="164.33" width="18.7" height="0.97" fill="#f7ac8e" fill-opacity="0.063"/><rect x="165.3" y="193.8" width="0.95" height="18.7" fill="#b40426" fill-opacity="0.037"/><rect x="193.8" y="165.3" width="18.7" height="0.95" fill="#b40426" fill-opacity="0.037"/><rect x="166.25" y="193.8" width="0.91" height="18.7" fill="#b40426" fill-opacity="0.037"/><rect x="193.8" y="166.25" width="18.7" height="0.91" fill="#b40426" fill-opacity="0.037"/><rect x="167.16" y="193.8" width="1.38" height="18.7" fill="#f7ac8e" fill-opacity="0.063"/><rect x="193.8" y="167.16" width="18.7" height="1.38" fill="#f7ac8e" fill-opacity="0.063"/><rect x="168.54" y="193.8" width="0.97" height="18.7" fill="#f7ac8e" fill-opacity="0.063"/><rect x="193.8" y="168.54" width="18.7" height="0.97" fill="#f7ac8e" fill-opacity="0.063"/><rect x="171.5" y="193.8" width="1.49" height="18.7" fill="#f7ac8e" fill-opacity="0.063"/><rect x="193.8" y="171.5" width="18.7" height="1.49" fill="#f7ac8e" fill-opacity="0.063"/><rect x="172.99" y="193.8" width="1.34" height="18.7" fill="#b40426" fill-opacity="0.075"/><rect x="193.8" y="172.99" width="18.7" height="1.34" fill="#b40426" fill-opacity="0.075"/><rect x="174.34" y="193.8" width="1.05" height="18.7" fill="#b40426" fill-opacity="0.037"/><rect x="193.8" y="174.34" width="18.7" height="1.05" fill="#b40426" fill-opacity="0.037"/><rect x="175.39" y="193.8" width="0.68" height="18.7" fill="#b40426" fill-opacity="0.037"/><rect x="193.8" y="175.39" width="18.7" height="0.68" fill="#b40426" fill-opacity="0.037"/><rect x="176.07" y="193.8" width="0.67" height="18.7" fill="#b40426" fill-opacity="0.037"/><rect x="193.8" y="176.07" width="18.7" height="0.67" fill="#b40426" fill-opacity="0.037"/><rect x="176.74" y="193.8" width="1.32" height="18.7" fill="#f7ac8e" fill-opacity="0.063"/><rect x="193.8" y="176.74" width="18.7" height="1.32" fill="#f7ac8e" fill-opacity="0.063"/><rect x="178.06" y="193.8" width="1.23" height="18.7" fill="#b40426" fill-opacity="0.075"/><rect x="193.8" y="178.06" width="18.7" height="1.23" fill="#b40426" fill-opacity="0.075"/><rect x="179.28" y="193.8" width="0.75" height="18.7" fill="#b40426" fill-opacity="0.075"/><rect x="193.8" y="179.28" width="18.7" height="0.75" fill="#b40426" fill-opacity="0.075"/><rect x="180.03" y="193.8" width="0.69" height="18.7" fill="#b40426" fill-opacity="0.075"/><rect x="193.8" y="180.03" width="18.7" height="0.69" fill="#b40426" fill-opacity="0.075"/><rect x="180.72" y="193.8" width="1.46" height="18.7" fill="#f7ac8e" fill-opacity="0.125"/><rect x="193.8" y="180.72" width="18.7" height="1.46" fill="#f7ac8e" fill-opacity="0.125"/><rect x="182.18" y="193.8" width="0.78" height="18.7" fill="#b40426" fill-opacity="0.037"/><rect x="193.8" y="182.18" width="18.7" height="0.78" fill="#b40426" fill-opacity="0.037"/><rect x="187.46" y="193.8" width="1.34" height="18.7" fill="#b40426" fill-opacity="0.075"/><rect x="193.8" y="187.46" width="18.7" height="1.34" fill="#b40426" fill-opacity="0.075"/><rect x="188.8" y="193.8" width="1.14" height="18.7" fill="#f7ac8e" fill-opacity="0.125"/><rect x="193.8" y="188.8" width="18.7" height="1.14" fill="#f7ac8e" fill-opacity="0.125"/><rect x="190.68" y="193.8" width="1.17" height="18.7" fill="#b40426" fill-opacity="0.037"/><rect x="193.8" y="190.68" width="18.7" height="1.17" fill="#b40426" fill-opacity="0.037"/><rect x="193.31" y="193.8" width="1.03" height="18.7" fill="#f7ac8e" fill-opacity="0.125"/><rect x="193.8" y="193.31" width="18.7" height="1.03" fill="#f7ac8e" fill-opacity="0.125"/><rect x="212.5" y="0" width="36.8" height="90" fill="#e0654f"/><rect x="0" y="212.5" width="90" height="36.8" fill="#e0654f"/><rect x="212.5" y="90" width="36.8" height="103.8" fill="#d95847"/><rect x="90" y="212.5" width="103.8" height="36.8" fill="#d95847"/><rect x="212.5" y="193.8" width="36.8" height="18.7" fill="#d95847"/><rect x="193.8" y="212.5" width="18.7" height="36.8" fill="#d95847"/><rect x="212.5" y="212.5" width="36.8" height="36.8" fill="#d1493f"/><rect x="20" y="212.5" width="0.62" height="36.8" fill="#f7ac8e" fill-opacity="0.084"/><rect x="212.5" y="20" width="36.8" height="0.62" fill="#f7ac8e" fill-opacity="0.084"/><rect x="23.07" y="212.5" width="0.96" height="36.8" fill="#f7ac8e" fill-opacity="0.084"/><rect x="212.5" y="23.07" width="36.8" height="0.96" fill="#f7ac8e" fill-opacity="0.084"/><rect x="25.55" y="212.5" width="1.53" height="36.8" fill="#f7ac8e" fill-opacity="0.084"/><rect x="212.5" y="25.55" width="36.8" height="1.53" fill="#f7ac8e" fill-opacity="0.084"/><rect x="27.08" y="212.5" width="0.98" height="36.8" fill="#b40426" fill-opacity="0.038"/><rect x="212.5" y="27.08" width="36.8" height="0.98" fill="#b40426" fill-opacity="0.038"/><rect x="29.26" y="212.5" width="0.61" height="36.8" fill="#f7ac8e" fill-opacity="0.084"/><rect x="212.5" y="29.26" width="36.8" height="0.61" fill="#f7ac8e" fill-opacity="0.084"/><rect x="31.44" y="212.5" width="1.22" height="36.8" fill="#f7ac8e" fill-opacity="0.042"/><rect x="212.5" y="31.44" width="36.8" height="1.22" fill="#f7ac8e" fill-opacity="0.042"/><rect x="34.19" y="212.5" width="1.18" height="36.8" fill="#b40426" fill-opacity="0.038"/><rect x="212.5" y="34.19" width="36.8" height="1.18" fill="#b40426" fill-opacity="0.038"/><rect x="36.21" y="212.5" width="0.83" height="36.8" fill="#b40426" fill-opacity="0.080"/><rect x="212.5" y="36.21" width="36.8" height="0.83" fill="#b40426" fill-opacity="0.080"/><rect x="37.04" y="212.5" width="0.97" height="36.8" fill="#f7ac8e" fill-opacity="0.042"/><rect x="212.5" y="37.04" width="36.8" height="0.97" fill="#f7ac8e" fill-opacity="0.042"/><rect x="38.01" y="212.5" width="0.88" height="36.8" fill="#f7ac8e" fill-opacity="0.084"/><rect x="212.5" y="38.01" width="36.8" height="0.88" fill="#f7ac8e" fill-opacity="0.084"/><rect x="38.89" y="212.5" width="1.3" height="36.8" fill="#f7ac8e" fill-opacity="0.042"/><rect x="212.5" y="38.89" width="36.8" height="1.3" fill="#f7ac8e" fill-opacity="0.042"/><rect x="40.19" y="212.5" width="1.49" height="36.8" fill="#b40426" fill-opacity="0.080"/><rect x="212.5" y="40.19" width="36.8" height="1.49" fill="#b40426" fill-opacity="0.080"/><rect x="41.68" y="212.5" width="0.78" height="36.8" fill="#f7ac8e" fill-opacity="0.084"/><rect x="212.5" y="41.68" width="36.8" height="0.78" fill="#f7ac8e" fill-opacity="0.084"/><rect x="42.46" y="212.5" width="1.51" height="36.8" fill="#b40426" fill-opacity="0.080"/><rect x="212.5" y="42.46" width="36.8" height="1.51" fill="#b40426" fill-opacity="0.080"/><rect x="43.97" y="212.5" width="1.37" height="36.8" fill="#b40426" fill-opacity="0.080"/><rect x="212.5" y="43.97" width="36.8" height="1.37" fill="#b40426" fill-opacity="0.080"/><rect x="45.34" y="212.5" width="0.74" height="36.8" fill="#b40426" fill-opacity="0.038"/><rect x="212.5" y="45.34" width="36.8" height="0.74" fill="#b40426" fill-opacity="0.038"/><rect x="48.48" y="212.5" width="0.72" height="36.8" fill="#b40426" fill-opacity="0.038"/><rect x="212.5" y="48.48" width="36.8" height="0.72" fill="#b40426" fill-opacity="0.038"/><rect x="49.21" y="212.5" width="0.61" height="36.8" fill="#b40426" fill-opacity="0.080"/><rect x="212.5" y="49.21" width="36.8" height="0.61" fill="#b40426" fill-opacity="0.080"/><rect x="51.69" y="212.5" width="0.7" height="36.8" fill="#f7ac8e" fill-opacity="0.042"/><rect x="212.5" y="51.69" width="36.8" height="0.7" fill="#f7ac8e" fill-opacity="0.042"/><rect x="52.4" y="212.5" width="0.99" height="36.8" fill="#b40426" fill-opacity="0.038"/><rect x="212.5" y="52.4" width="36.8" height="0.99" fill="#b40426" fill-opacity="0.038"/><rect x="53.39" y="212.5" width="1.1" height="36.8" fill="#b40426" fill-opacity="0.038"/><rect x="212.5" y="53.39" width="36.8" height="1.1" fill="#b40426" fill-opacity="0.038"/><rect x="54.49" y="212.5" width="0.89" height="36.8" fill="#b40426" fill-opacity="0.038"/><rect x="212.5" y="54.49" width="36.8" height="0.89" fill="#b40426" fill-opacity="0.038"/><rect x="55.38" y="212.5" width="1.38" height="36.8" fill="#b40426" fill-opacity="0.038"/><rect x="212.5" y="55.38" width="36.8" height="1.38" fill="#b40426" fill-opacity="0.038"/><rect x="58.31" y="212.5" width="0.76" height="36.8" fill="#f7ac8e" fill-opacity="0.042"/><rect x="212.5" y="58.31" width="36.8" height="0.76" fill="#f7ac8e" fill-opacity="0.042"/><rect x="59.07" y="212.5" width="1.33" height="36.8" fill="#f7ac8e" fill-opacity="0.084"/><rect x="212.5" y="59.07" width="36.8" height="1.33" fill="#f7ac8e" fill-opacity="0.084"/><rect x="60.4" y="212.5" width="0.73" height="36.8" fill="#f7ac8e" fill-opacity="0.042"/><rect x="212.5" y="60.4" width="36.8" height="0.73" fill="#f7ac8e" fill-opacity="0.042"/><rect x="62.59" y="212.5" width="1.05" height="36.8" fill="#f7ac8e" fill-opacity="0.042"/><rect x="212.5" y="62.59" width="36.8" height="1.05" fill="#f7ac8e" fill-opacity="0.042"/><rect x="63.65" y="212.5" width="0.85" height="36.8" fill="#f7ac8e" fill-opacity="0.084"/><rect x="212.5" y="63.65" width="36.8" height="0.85" fill="#f7ac8e" fill-opacity="0.084"/><rect x="64.49" y="212.5" width="1.3" height="36.8" fill="#f7ac8e" fill-opacity="0.084"/><rect x="212.5" y="64.49" width="36.8" height="1.3" fill="#f7ac8e" fill-opacity="0.084"/><rect x="67.64" y="212.5" width="1.33" height="36.8" fill="#f7ac8e" fill-opacity="0.084"/><rect x="212.5" y="67.64" width="36.8" height="1.33" fill="#f7ac8e" fill-opacity="0.084"/><rect x="68.97" y="212.5" width="0.75" height="36.8" fill="#b40426" fill-opacity="0.080"/><rect x="212.5" y="68.97" width="36.8" height="0.75" fill="#b40426" fill-opacity="0.080"/><rect x="70.39" y="212.5" width="1.39" height="36.8" fill="#b40426" fill-opacity="0.038"/><rect x="212.5" y="70.39" width="36.8" height="1.39" fill="#b40426" fill-opacity="0.038"/><rect x="72.86" y="212.5" width="1.44" height="36.8" fill="#b40426" fill-opacity="0.038"/><rect x="212.5" y="72.86" width="36.8" height="1.44" fill="#b40426" fill-opacity="0.038"/><rect x="74.91" y="212.5" width="0.96" height="36.8" fill="#b40426" fill-opacity="0.038"/><rect x="212.5" y="74.91" width="36.8" height="0.96" fill="#b40426" fill-opacity="0.038"/><rect x="75.86" y="212.5" width="1.37" height="36.8" fill="#f7ac8e" fill-opacity="0.042"/><rect x="212.5" y="75.86" width="36.8" height="1.37" fill="#f7ac8e" fill-opacity="0.042"/><rect x="77.92" y="212.5" width="1.4" height="36.8" fill="#f7ac8e" fill-opacity="0.084"/><rect x="212.5" y="77.92" width="36.8" height="1.4" fill="#f7ac8e" fill-opacity="0.084"/><rect x="79.32" y="212.5" width="0.6" height="36.8" fill="#f7ac8e" fill-opacity="0.042"/><rect x="212.5" y="79.32" width="36.8" height="0.6" fill="#f7ac8e" fill-opacity="0.042"/><rect x="79.92" y="212.5" width="0.64" height="36.8" fill="#f7ac8e" fill-opacity="0.042"/><rect x="212.5" y="79.92" width="36.8" height="0.64" fill="#f7ac8e" fill-opacity="0.042"/><rect x="80.56" y="212.5" width="1.2" height="36.8" fill="#f7ac8e" fill-opacity="0.084"/><rect x="212.5" y="80.56" width="36.8" height="1.2" fill="#f7ac8e" fill-opacity="0.084"/><rect x="81.76" y="212.5" width="1.23" height="36.8" fill="#b40426" fill-opacity="0.080"/><rect x="212.5" y="81.76" width="36.8" height="1.23" fill="#b40426" fill-opacity="0.080"/><rect x="82.99" y="212.5" width="1.27" height="36.8" fill="#b40426" fill-opacity="0.038"/><rect x="212.5" y="82.99" width="36.8" height="1.27" fill="#b40426" fill-opacity="0.038"/><rect x="84.26" y="212.5" width="1.43" height="36.8" fill="#b40426" fill-opacity="0.080"/><rect x="212.5" y="84.26" width="36.8" height="1.43" fill="#b40426" fill-opacity="0.080"/><rect x="85.69" y="212.5" width="0.92" height="36.8" fill="#f7ac8e" fill-opacity="0.042"/><rect x="212.5" y="85.69" width="36.8" height="0.92" fill="#f7ac8e" fill-opacity="0.042"/><rect x="86.62" y="212.5" width="0.76" height="36.8" fill="#f7ac8e" fill-opacity="0.042"/><rect x="212.5" y="86.62" width="36.8" height="0.76" fill="#f7ac8e" fill-opacity="0.042"/><rect x="87.37" y="212.5" width="1.3" height="36.8" fill="#f7ac8e" fill-opacity="0.042"/><rect x="212.5" y="87.37" width="36.8" height="1.3" fill="#f7ac8e" fill-opacity="0.042"/><rect x="90.15" y="212.5" width="0.74" height="36.8" fill="#b40426" fill-opacity="0.038"/><rect x="212.5" y="90.15" width="36.8" height="0.74" fill="#b40426" fill-opacity="0.038"/><rect x="90.89" y="212.5" width="0.99" height="36.8" fill="#b40426" fill-opacity="0.080"/><rect x="212.5" y="90.89" width="36.8" height="0.99" fill="#b40426" fill-opacity="0.080"/><rect x="91.88" y="212.5" width="1.31" height="36.8" fill="#b40426" fill-opacity="0.080"/><rect x="212.5" y="91.88" width="36.8" height="1.31" fill="#b40426" fill-opacity="0.080"/><rect x="93.19" y="212.5" width="0.66" height="36.8" fill="#f7ac8e" fill-opacity="0.084"/><rect x="212.5" y="93.19" width="36.8" height="0.66" fill="#f7ac8e" fill-opacity="0.084"/><rect x="93.85" y="212.5" width="1.41" height="36.8" fill="#b40426" fill-opacity="0.038"/><rect x="212.5" y="93.85" width="36.8" height="1.41" fill="#b40426" fill-opacity="0.038"/><rect x="95.25" y="212.5" width="0.94" height="36.8" fill="#f7ac8e" fill-opacity="0.084"/><rect x="212.5" y="95.25" width="36.8" height="0.94" fill="#f7ac8e" fill-opacity="0.084"/><rect x="96.19" y="212.5" width="1.22" height="36.8" fill="#b40426" fill-opacity="0.038"/><rect x="212.5" y="96.19" width="36.8" height="1.22" fill="#b40426" fill-opacity="0.038"/><rect x="97.41" y="212.5" width="1.05" height="36.8" fill="#f7ac8e" fill-opacity="0.084"/><rect x="212.5" y="97.41" width="36.8" height="1.05" fill="#f7ac8e" fill-opacity="0.084"/><rect x="98.46" y="212.5" width="0.6" height="36.8" fill="#f7ac8e" fill-opacity="0.084"/><rect x="212.5" y="98.46" width="36.8" height="0.6" fill="#f7ac8e" fill-opacity="0.084"/><rect x="99.06" y="212.5" width="1.17" height="36.8" fill="#b40426" fill-opacity="0.038"/><rect x="212.5" y="99.06" width="36.8" height="1.17" fill="#b40426" fill-opacity="0.038"/><rect x="100.23" y="212.5" width="1.4" height="36.8" fill="#b40426" fill-opacity="0.064"/><rect x="212.5" y="100.23" width="36.8" height="1.4" fill="#b40426" fill-opacity="0.064"/><rect x="102.64" y="212.5" width="0.85" height="36.8" fill="#f7ac8e" fill-opacity="0.084"/><rect x="212.5" y="102.64" width="36.8" height="0.85" fill="#f7ac8e" fill-opacity="0.084"/><rect x="103.49" y="212.5" width="1.3" height="36.8" fill="#b40426" fill-opacity="0.032"/><rect x="212.5" y="103.49" width="36.8" height="1.3" fill="#b40426" fill-opacity="0.032"/><rect x="104.78" y="212.5" width="0.75" height="36.8" fill="#b40426" fill-opacity="0.064"/><rect x="212.5" y="104.78" width="36.8" height="0.75" fill="#b40426" fill-opacity="0.064"/><rect x="105.53" y="212.5" width="1.17" height="36.8" fill="#b40426" fill-opacity="0.032"/><rect x="212.5" y="105.53" width="36.8" height="1.17" fill="#b40426" fill-opacity="0.032"/><rect x="106.71" y="212.5" width="1.14" height="36.8" fill="#f7ac8e" fill-opacity="0.042"/><rect x="212.5" y="106.71" width="36.8" height="1.14" fill="#f7ac8e" fill-opacity="0.042"/><rect x="107.85" y="212.5" width="1.48" height="36.8" fill="#b40426" fill-opacity="0.032"/><rect x="212.5" y="107.85" width="36.8" height="1.48" fill="#b40426" fill-opacity="0.032"/><rect x="111.24" y="212.5" width="1.06" height="36.8" fill="#f7ac8e" fill-opacity="0.042"/><rect x="212.5" y="111.24" width="36.8" height="1.06" fill="#f7ac8e" fill-opacity="0.042"/><rect x="113.21" y="212.5" width="0.99" height="36.8" fill="#b40426" fill-opacity="0.032"/><rect x="212.5" y="113.21" width="36.8" height="0.99" fill="#b40426" fill-opacity="0.032"/><rect x="115.43" y="212.5" width="1.52" height="36.8" fill="#f7ac8e" fill-opacity="0.042"/><rect x="212.5" y="115.43" width="36.8" height="1.52" fill="#f7ac8e" fill-opacity="0.042"/><rect x="116.95" y="212.5" width="0.83" height="36.8" fill="#b40426" fill-opacity="0.032"/><rect x="212.5" y="116.95" width="36.8" height="0.83" fill="#b40426" fill-opacity="0.032"/><rect x="119.16" y="212.5" width="0.61" height="36.8" fill="#f7ac8e" fill-opacity="0.042"/><rect x="212.5" y="119.16" width="36.8" height="0.61" fill="#f7ac8e" fill-opacity="0.042"/><rect x="119.77" y="212.5" width="0.99" height="36.8" fill="#f7ac8e" fill-opacity="0.042"/><rect x="212.5" y="119.77" width="36.8" height="0.99" fill="#f7ac8e" fill-opacity="0.042"/><rect x="120.76" y="212.5" width="1.35" height="36.8" fill="#f7ac8e" fill-opacity="0.084"/><rect x="212.5" y="120.76" width="36.8" height="1.35" fill="#f7ac8e" fill-opacity="0.084"/><rect x="122.11" y="212.5" width="1.3" height="36.8" fill="#f7ac8e" fill-opacity="0.084"/><rect x="212.5" y="122.11" width="36.8" height="1.3" fill="#f7ac8e" fill-opacity="0.084"/><rect x="124.29" y="212.5" width="0.66" height="36.8" fill="#f7ac8e" fill-opacity="0.084"/><rect x="212.5" y="124.29" width="36.8" height="0.66" fill="#f7ac8e" fill-opacity="0.084"/><rect x="125.71" y="212.5" width="1.11" height="36.8" fill="#f7ac8e" fill-opacity="0.042"/><rect x="212.5" y="125.71" width="36.8" height="1.11" fill="#f7ac8e" fill-opacity="0.042"/><rect x="126.82" y="212.5" width="0.99" height="36.8" fill="#b40426" fill-opacity="0.032"/><rect x="212.5" y="126.82" width="36.8" height="0.99" fill="#b40426" fill-opacity="0.032"/><rect x="127.81" y="212.5" width="0.98" height="36.8" fill="#b40426" fill-opacity="0.064"/><rect x="212.5" y="127.81" width="36.8" height="0.98" fill="#b40426" fill-opacity="0.064"/><rect x="128.79" y="212.5" width="0.9" height="36.8" fill="#f7ac8e" fill-opacity="0.042"/><rect x="212.5" y="128.79" width="36.8" height="0.9" fill="#f7ac8e" fill-opacity="0.042"/><rect x="129.69" y="212.5" width="0.66" height="36.8" fill="#f7ac8e" fill-opacity="0.084"/><rect x="212.5" y="129.69" width="36.8" height="0.66" fill="#f7ac8e" fill-opacity="0.084"/><rect x="131.48" y="212.5" width="1.43" height="36.8" fill="#b40426" fill-opacity="0.032"/><rect x="212.5" y="131.48" width="36.8" height="1.43" fill="#b40426" fill-opacity="0.032"/><rect x="132.92" y="212.5" width="0.92" height="36.8" fill="#f7ac8e" fill-opacity="0.084"/><rect x="212.5" y="132.92" width="36.8" height="0.92" fill="#f7ac8e" fill-opacity="0.084"/><rect x="133.84" y="212.5" width="0.84" height="36.8" fill="#f7ac8e" fill-opacity="0.042"/><rect x="212.5" y="133.84" width="36.8" height="0.84" fill="#f7ac8e" fill-opacity="0.042"/><rect x="135.36" y="212.5" width="1.26" height="36.8" fill="#b40426" fill-opacity="0.032"/><rect x="212.5" y="135.36" width="36.8" height="1.26" fill="#b40426" fill-opacity="0.032"/><rect x="137.55" y="212.5" width="1.19" height="36.8" fill="#b40426" fill-opacity="0.032"/><rect x="212.5" y="137.55" width="36.8" height="1.19" fill="#b40426" fill-opacity="0.032"/><rect x="138.74" y="212.5" width="1.01" height="36.8" fill="#f7ac8e" fill-opacity="0.084"/><rect x="212.5" y="138.74" width="36.8" height="1.01" fill="#f7ac8e" fill-opacity="0.084"/><rect x="139.75" y="212.5" width="0.92" height="36.8" fill="#f7ac8e" fill-opacity="0.042"/><rect x="212.5" y="139.75" width="36.8" height="0.92" fill="#f7ac8e" fill-opacity="0.042"/><rect x="140.67" y="212.5" width="0.8" height="36.8" fill="#b40426" fill-opacity="0.032"/><rect x="212.5" y="140.67" width="36.8" height="0.8" fill="#b40426" fill-opacity="0.032"/><rect x="142.59" y="212.5" width="1.32" height="36.8" fill="#f7ac8e" fill-opacity="0.042"/><rect x="212.5" y="142.59" width="36.8" height="1.32" fill="#f7ac8e" fill-opacity="0.042"/><rect x="143.91" y="212.5" width="1.3" height="36.8" fill="#f7ac8e" fill-opacity="0.042"/><rect x="212.5" y="143.91" width="36.8" height="1.3" fill="#f7ac8e" fill-opacity="0.042"/><rect x="145.21" y="212.5" width="1.49" height="36.8" fill="#b40426" fill-opacity="0.064"/><rect x="212.5" y="145.21" width="36.8" height="1.49" fill="#b40426" fill-opacity="0.064"/><rect x="146.69" y="212.5" width="1.43" height="36.8" fill="#b40426" fill-opacity="0.032"/><rect x="212.5" y="146.69" width="36.8" height="1.43" fill="#b40426" fill-opacity="0.032"/><rect x="148.12" y="212.5" width="0.86" height="36.8" fill="#b40426" fill-opacity="0.064"/><rect x="212.5" y="148.12" width="36.8" height="0.86" fill="#b40426" fill-opacity="0.064"/><rect x="151.01" y="212.5" width="0.64" height="36.8" fill="#b40426" fill-opacity="0.032"/><rect x="212.5" y="151.01" width="36.8" height="0.64" fill="#b40426" fill-opacity="0.032"/><rect x="152.83" y="212.5" width="0.76" height="36.8" fill="#b40426" fill-opacity="0.112"/><rect x="212.5" y="152.83" width="36.8" height="0.76" fill="#b40426" fill-opacity="0.112"/><rect x="153.59" y="212.5" width="1.18" height="36.8" fill="#f7ac8e" fill-opacity="0.042"/><rect x="212.5" y="153.59" width="36.8" height="1.18" fill="#f7ac8e" fill-opacity="0.042"/><rect x="154.76" y="212.5" width="1.4" height="36.8" fill="#b40426" fill-opacity="0.032"/><rect x="212.5" y="154.76" width="36.8" height="1.4" fill="#b40426" fill-opacity="0.032"/><rect x="157.34" y="212.5" width="1.47" height="36.8" fill="#b40426" fill-opacity="0.032"/><rect x="212.5" y="157.34" width="36.8" height="1.47" fill="#b40426" fill-opacity="0.032"/><rect x="158.81" y="212.5" width="1.48" height="36.8" fill="#b40426" fill-opacity="0.064"/><rect x="212.5" y="158.81" width="36.8" height="1.48" fill="#b40426" fill-opacity="0.064"/><rect x="160.29" y="212.5" width="0.82" height="36.8" fill="#b40426" fill-opacity="0.064"/><rect x="212.5" y="160.29" width="36.8" height="0.82" fill="#b40426" fill-opacity="0.064"/><rect x="161.11" y="212.5" width="1.33" height="36.8" fill="#f7ac8e" fill-opacity="0.042"/><rect x="212.5" y="161.11" width="36.8" height="1.33" fill="#f7ac8e" fill-opacity="0.042"/><rect x="163.51" y="212.5" width="0.74" height="36.8" fill="#b40426" fill-opacity="0.032"/><rect x="212.5" y="163.51" width="36.8" height="0.74" fill="#b40426" fill-opacity="0.032"/><rect x="164.25" y="212.5" width="1.03" height="36.8" fill="#b40426" fill-opacity="0.032"/><rect x="212.5" y="164.25" width="36.8" height="1.03" fill="#b40426" fill-opacity="0.032"/><rect x="167.34" y="212.5" width="1.34" height="36.8" fill="#b40426" fill-opacity="0.032"/><rect x="212.5" y="167.34" width="36.8" height="1.34" fill="#b40426" fill-opacity="0.032"/><rect x="170.14" y="212.5" width="1.48" height="36.8" fill="#b40426" fill-opacity="0.032"/><rect x="212.5" y="170.14" width="36.8" height="1.48" fill="#b40426" fill-opacity="0.032"/><rect x="171.62" y="212.5" width="1.3" height="36.8" fill="#b40426" fill-opacity="0.064"/><rect x="212.5" y="171.62" width="36.8" height="1.3" fill="#b40426" fill-opacity="0.064"/><rect x="172.92" y="212.5" width="0.68" height="36.8" fill="#f7ac8e" fill-opacity="0.084"/><rect x="212.5" y="172.92" width="36.8" height="0.68" fill="#f7ac8e" fill-opacity="0.084"/><rect x="173.6" y="212.5" width="0.97" height="36.8" fill="#b40426" fill-opacity="0.112"/><rect x="212.5" y="173.6" width="36.8" height="0.97" fill="#b40426" fill-opacity="0.112"/><rect x="174.57" y="212.5" width="1.22" height="36.8" fill="#f7ac8e" fill-opacity="0.084"/><rect x="212.5" y="174.57" width="36.8" height="1.22" fill="#f7ac8e" fill-opacity="0.084"/><rect x="175.79" y="212.5" width="1.37" height="36.8" fill="#f7ac8e" fill-opacity="0.084"/><rect x="212.5" y="175.79" width="36.8" height="1.37" fill="#f7ac8e" fill-opacity="0.084"/><rect x="177.16" y="212.5" width="1.54" height="36.8" fill="#b40426" fill-opacity="0.032"/><rect x="212.5" y="177.16" width="36.8" height="1.54" fill="#b40426" fill-opacity="0.032"/><rect x="178.69" y="212.5" width="0.83" height="36.8" fill="#b40426" fill-opacity="0.112"/><rect x="212.5" y="178.69" width="36.8" height="0.83" fill="#b40426" fill-opacity="0.112"/><rect x="180.4" y="212.5" width="1.51" height="36.8" fill="#b40426" fill-opacity="0.112"/><rect x="212.5" y="180.4" width="36.8" height="1.51" fill="#b40426" fill-opacity="0.112"/><rect x="181.91" y="212.5" width="1.42" height="36.8" fill="#f7ac8e" fill-opacity="0.042"/><rect x="212.5" y="181.91" width="36.8" height="1.42" fill="#f7ac8e" fill-opacity="0.042"/><rect x="183.33" y="212.5" width="1.29" height="36.8" fill="#b40426" fill-opacity="0.112"/><rect x="212.5" y="183.33" width="36.8" height="1.29" fill="#b40426" fill-opacity="0.112"/><rect x="185.27" y="212.5" width="1.24" height="36.8" fill="#b40426" fill-opacity="0.032"/><rect x="212.5" y="185.27" width="36.8" height="1.24" fill="#b40426" fill-opacity="0.032"/><rect x="186.51" y="212.5" width="0.95" height="36.8" fill="#b40426" fill-opacity="0.112"/><rect x="212.5" y="186.51" width="36.8" height="0.95" fill="#b40426" fill-opacity="0.112"/><rect x="187.46" y="212.5" width="1.59" height="36.8" fill="#f7ac8e" fill-opacity="0.042"/><rect x="212.5" y="187.46" width="36.8" height="1.59" fill="#f7ac8e" fill-opacity="0.042"/><rect x="189.05" y="212.5" width="1.57" height="36.8" fill="#f7ac8e" fill-opacity="0.042"/><rect x="212.5" y="189.05" width="36.8" height="1.57" fill="#f7ac8e" fill-opacity="0.042"/><rect x="190.63" y="212.5" width="1.06" height="36.8" fill="#f7ac8e" fill-opacity="0.042"/><rect x="212.5" y="190.63" width="36.8" height="1.06" fill="#f7ac8e" fill-opacity="0.042"/><rect x="192.48" y="212.5" width="0.84" height="36.8" fill="#b40426" fill-opacity="0.032"/><rect x="212.5" y="192.48" width="36.8" height="0.84" fill="#b40426" fill-opacity="0.032"/><rect x="193.32" y="212.5" width="1.47" height="36.8" fill="#b40426" fill-opacity="0.032"/><rect x="212.5" y="193.32" width="36.8" height="1.47" fill="#b40426" fill-opacity="0.032"/><rect x="212.5" y="0" width="1.05" height="258" fill="#f7ac8e" fill-opacity="0.188"/><rect x="0" y="212.5" width="258" height="1.05" fill="#f7ac8e" fill-opacity="0.188"/><rect x="215.14" y="0" width="0.73" height="258" fill="#b40426" fill-opacity="0.050"/><rect x="0" y="215.14" width="258" height="0.73" fill="#b40426" fill-opacity="0.050"/><rect x="218.21" y="0" width="1.02" height="258" fill="#b40426" fill-opacity="0.050"/><rect x="0" y="218.21" width="258" height="1.02" fill="#b40426" fill-opacity="0.050"/><rect x="221.33" y="0" width="1.09" height="258" fill="#f7ac8e" fill-opacity="0.188"/><rect x="0" y="221.33" width="258" height="1.09" fill="#f7ac8e" fill-opacity="0.188"/><rect x="225.75" y="0" width="1.01" height="258" fill="#f7ac8e" fill-opacity="0.188"/><rect x="0" y="225.75" width="258" height="1.01" fill="#f7ac8e" fill-opacity="0.188"/><rect x="229.28" y="0" width="0.63" height="258" fill="#f7ac8e" fill-opacity="0.188"/><rect x="0" y="229.28" width="258" height="0.63" fill="#f7ac8e" fill-opacity="0.188"/><rect x="232.77" y="0" width="0.72" height="258" fill="#b40426" fill-opacity="0.050"/><rect x="0" y="232.77" width="258" height="0.72" fill="#b40426" fill-opacity="0.050"/><rect x="234.36" y="0" width="0.68" height="258" fill="#b40426" fill-opacity="0.050"/><rect x="0" y="234.36" width="258" height="0.68" fill="#b40426" fill-opacity="0.050"/><rect x="238.02" y="0" width="0.83" height="258" fill="#f7ac8e" fill-opacity="0.188"/><rect x="0" y="238.02" width="258" height="0.83" fill="#f7ac8e" fill-opacity="0.188"/><rect x="240.49" y="0" width="0.75" height="258" fill="#f7ac8e" fill-opacity="0.188"/><rect x="0" y="240.49" width="258" height="0.75" fill="#f7ac8e" fill-opacity="0.188"/><rect x="244.05" y="0" width="0.69" height="258" fill="#f7ac8e" fill-opacity="0.188"/><rect x="0" y="244.05" width="258" height="0.69" fill="#f7ac8e" fill-opacity="0.188"/><rect x="247.28" y="0" width="1.08" height="258" fill="#b40426" fill-opacity="0.050"/><rect x="0" y="247.28" width="258" height="1.08" fill="#b40426" fill-opacity="0.050"/><rect x="250.3" y="0" width="7.7" height="249.3" fill="#dc5d4a"/><rect x="0" y="250.3" width="249.3" height="7.7" fill="#dc5d4a"/><rect x="250.3" y="250.3" width="7.7" height="7.7" fill="#c0282f"/><line x1="0" y1="0" x2="258" y2="258" stroke="#b40426" stroke-width="0.7" stroke-opacity="0.35"/></g><rect x="632" y="11.70" width="1" height="258.00" fill="#4a52c8" fill-opacity="0.55"/><rect x="382.50" y="261" width="258.50" height="1" fill="#4a52c8" fill-opacity="0.55"/><rect x="638" y="11.70" width="1" height="258.00" fill="#4a52c8" fill-opacity="0.85"/><rect x="382.50" y="267" width="258.50" height="1" fill="#4a52c8" fill-opacity="0.85"/>
<g stroke="#222" stroke-width="0.7"><line x1="27.60" y1="11.90" x2="29.70" y2="11.90"/><line x1="27.60" y1="20.56" x2="29.70" y2="20.56"/><line x1="27.60" y1="29.23" x2="29.70" y2="29.23"/><line x1="27.60" y1="37.89" x2="29.70" y2="37.89"/><line x1="27.60" y1="46.56" x2="29.70" y2="46.56"/><line x1="27.60" y1="55.23" x2="29.70" y2="55.23"/><line x1="27.60" y1="63.89" x2="29.70" y2="63.89"/><line x1="27.60" y1="72.56" x2="29.70" y2="72.56"/><line x1="27.60" y1="81.22" x2="29.70" y2="81.22"/><line x1="27.60" y1="89.89" x2="29.70" y2="89.89"/><line x1="27.60" y1="98.55" x2="29.70" y2="98.55"/><line x1="27.60" y1="107.22" x2="29.70" y2="107.22"/><line x1="27.60" y1="115.88" x2="29.70" y2="115.88"/><line x1="27.60" y1="124.55" x2="29.70" y2="124.55"/><line x1="27.60" y1="133.22" x2="29.70" y2="133.22"/><line x1="27.60" y1="141.88" x2="29.70" y2="141.88"/><line x1="27.60" y1="150.55" x2="29.70" y2="150.55"/><line x1="27.60" y1="159.21" x2="29.70" y2="159.21"/><line x1="27.60" y1="167.88" x2="29.70" y2="167.88"/><line x1="27.60" y1="176.54" x2="29.70" y2="176.54"/><line x1="27.60" y1="185.21" x2="29.70" y2="185.21"/><line x1="27.60" y1="193.88" x2="29.70" y2="193.88"/><line x1="27.60" y1="202.54" x2="29.70" y2="202.54"/><line x1="27.60" y1="211.21" x2="29.70" y2="211.21"/><line x1="27.60" y1="219.87" x2="29.70" y2="219.87"/><line x1="27.60" y1="228.54" x2="29.70" y2="228.54"/><line x1="27.60" y1="237.20" x2="29.70" y2="237.20"/><line x1="27.60" y1="245.87" x2="29.70" y2="245.87"/><line x1="27.60" y1="254.54" x2="29.70" y2="254.54"/><line x1="27.60" y1="263.20" x2="29.70" y2="263.20"/><line x1="29.90" y1="269.70" x2="29.90" y2="271.80"/><line x1="40.15" y1="269.70" x2="40.15" y2="271.80"/><line x1="50.41" y1="269.70" x2="50.41" y2="271.80"/><line x1="60.67" y1="269.70" x2="60.67" y2="271.80"/><line x1="70.93" y1="269.70" x2="70.93" y2="271.80"/><line x1="81.18" y1="269.70" x2="81.18" y2="271.80"/><line x1="91.44" y1="269.70" x2="91.44" y2="271.80"/><line x1="101.70" y1="269.70" x2="101.70" y2="271.80"/><line x1="111.95" y1="269.70" x2="111.95" y2="271.80"/><line x1="122.21" y1="269.70" x2="122.21" y2="271.80"/><line x1="132.47" y1="269.70" x2="132.47" y2="271.80"/><line x1="142.73" y1="269.70" x2="142.73" y2="271.80"/><line x1="152.98" y1="269.70" x2="152.98" y2="271.80"/><line x1="163.24" y1="269.70" x2="163.24" y2="271.80"/><line x1="173.50" y1="269.70" x2="173.50" y2="271.80"/><line x1="183.75" y1="269.70" x2="183.75" y2="271.80"/><line x1="194.01" y1="269.70" x2="194.01" y2="271.80"/><line x1="204.27" y1="269.70" x2="204.27" y2="271.80"/><line x1="214.53" y1="269.70" x2="214.53" y2="271.80"/><line x1="224.78" y1="269.70" x2="224.78" y2="271.80"/><line x1="235.04" y1="269.70" x2="235.04" y2="271.80"/><line x1="245.30" y1="269.70" x2="245.30" y2="271.80"/><line x1="255.55" y1="269.70" x2="255.55" y2="271.80"/><line x1="265.81" y1="269.70" x2="265.81" y2="271.80"/><line x1="276.07" y1="269.70" x2="276.07" y2="271.80"/><line x1="286.32" y1="269.70" x2="286.32" y2="271.80"/></g>
<g font-size="8.40" letter-spacing="0.22" fill="#111" stroke="#111" stroke-width="0.15"><text x="25.70" y="14.25" text-anchor="end">0</text><text x="25.70" y="22.91" text-anchor="end">22</text><text x="25.70" y="31.58" text-anchor="end">44</text><text x="25.70" y="40.24" text-anchor="end">66</text><text x="25.70" y="48.91" text-anchor="end">88</text><text x="25.70" y="57.58" text-anchor="end">110</text><text x="25.70" y="66.24" text-anchor="end">132</text><text x="25.70" y="74.91" text-anchor="end">154</text><text x="25.70" y="83.57" text-anchor="end">176</text><text x="25.70" y="92.24" text-anchor="end">198</text><text x="25.70" y="100.90" text-anchor="end">220</text><text x="25.70" y="109.57" text-anchor="end">242</text><text x="25.70" y="118.23" text-anchor="end">264</text><text x="25.70" y="126.90" text-anchor="end">286</text><text x="25.70" y="135.57" text-anchor="end">308</text><text x="25.70" y="144.23" text-anchor="end">330</text><text x="25.70" y="152.90" text-anchor="end">352</text><text x="25.70" y="161.56" text-anchor="end">374</text><text x="25.70" y="170.23" text-anchor="end">396</text><text x="25.70" y="178.89" text-anchor="end">418</text><text x="25.70" y="187.56" text-anchor="end">440</text><text x="25.70" y="196.23" text-anchor="end">462</text><text x="25.70" y="204.89" text-anchor="end">484</text><text x="25.70" y="213.56" text-anchor="end">506</text><text x="25.70" y="222.22" text-anchor="end">528</text><text x="25.70" y="230.89" text-anchor="end">550</text><text x="25.70" y="239.55" text-anchor="end">572</text><text x="25.70" y="248.22" text-anchor="end">594</text><text x="25.70" y="256.89" text-anchor="end">616</text><text x="25.70" y="265.55" text-anchor="end">638</text><text transform="translate(32.90,274.30) rotate(-90)" text-anchor="end">0</text><text transform="translate(43.15,274.30) rotate(-90)" text-anchor="end">26</text><text transform="translate(53.41,274.30) rotate(-90)" text-anchor="end">52</text><text transform="translate(63.67,274.30) rotate(-90)" text-anchor="end">78</text><text transform="translate(73.93,274.30) rotate(-90)" text-anchor="end">104</text><text transform="translate(84.18,274.30) rotate(-90)" text-anchor="end">130</text><text transform="translate(94.44,274.30) rotate(-90)" text-anchor="end">156</text><text transform="translate(104.70,274.30) rotate(-90)" text-anchor="end">182</text><text transform="translate(114.95,274.30) rotate(-90)" text-anchor="end">208</text><text transform="translate(125.21,274.30) rotate(-90)" text-anchor="end">234</text><text transform="translate(135.47,274.30) rotate(-90)" text-anchor="end">260</text><text transform="translate(145.73,274.30) rotate(-90)" text-anchor="end">286</text><text transform="translate(155.98,274.30) rotate(-90)" text-anchor="end">312</text><text transform="translate(166.24,274.30) rotate(-90)" text-anchor="end">338</text><text transform="translate(176.50,274.30) rotate(-90)" text-anchor="end">364</text><text transform="translate(186.75,274.30) rotate(-90)" text-anchor="end">390</text><text transform="translate(197.01,274.30) rotate(-90)" text-anchor="end">416</text><text transform="translate(207.27,274.30) rotate(-90)" text-anchor="end">442</text><text transform="translate(217.53,274.30) rotate(-90)" text-anchor="end">468</text><text transform="translate(227.78,274.30) rotate(-90)" text-anchor="end">494</text><text transform="translate(238.04,274.30) rotate(-90)" text-anchor="end">520</text><text transform="translate(248.30,274.30) rotate(-90)" text-anchor="end">546</text><text transform="translate(258.55,274.30) rotate(-90)" text-anchor="end">572</text><text transform="translate(268.81,274.30) rotate(-90)" text-anchor="end">598</text><text transform="translate(279.07,274.30) rotate(-90)" text-anchor="end">624</text><text transform="translate(289.32,274.30) rotate(-90)" text-anchor="end">650</text></g>
<text x="158.90" y="8.50" text-anchor="middle" font-size="10.20" letter-spacing="0.44" fill="#000">Average Frame Correlation - Domain 1</text>
<text x="158.90" y="297.50" text-anchor="middle" font-size="9.20" letter-spacing="0.12" fill="#000">Frame</text>
<text transform="translate(8.30,141.30) rotate(-90)" text-anchor="middle" font-size="9.20" letter-spacing="0.12" fill="#000">Frame</text>
<g stroke="#222" stroke-width="0.7"><line x1="380.40" y1="11.80" x2="382.50" y2="11.80"/><line x1="380.40" y1="20.27" x2="382.50" y2="20.27"/><line x1="380.40" y1="28.75" x2="382.50" y2="28.75"/><line x1="380.40" y1="37.23" x2="382.50" y2="37.23"/><line x1="380.40" y1="45.71" x2="382.50" y2="45.71"/><line x1="380.40" y1="54.19" x2="382.50" y2="54.19"/><line x1="380.40" y1="62.66" x2="382.50" y2="62.66"/><line x1="380.40" y1="71.14" x2="382.50" y2="71.14"/><line x1="380.40" y1="79.62" x2="382.50" y2="79.62"/><line x1="380.40" y1="88.10" x2="382.50" y2="88.10"/><line x1="380.40" y1="96.58" x2="382.50" y2="96.58"/><line x1="380.40" y1="105.05" x2="382.50" y2="105.05"/><line x1="380.40" y1="113.53" x2="382.50" y2="113.53"/><line x1="380.40" y1="122.01" x2="382.50" y2="122.01"/><line x1="380.40" y1="130.49" x2="382.50" y2="130.49"/><line x1="380.40" y1="138.97" x2="382.50" y2="138.97"/><line x1="380.40" y1="147.44" x2="382.50" y2="147.44"/><line x1="380.40" y1="155.92" x2="382.50" y2="155.92"/><line x1="380.40" y1="164.40" x2="382.50" y2="164.40"/><line x1="380.40" y1="172.88" x2="382.50" y2="172.88"/><line x1="380.40" y1="181.36" x2="382.50" y2="181.36"/><line x1="380.40" y1="189.83" x2="382.50" y2="189.83"/><line x1="380.40" y1="198.31" x2="382.50" y2="198.31"/><line x1="380.40" y1="206.79" x2="382.50" y2="206.79"/><line x1="380.40" y1="215.27" x2="382.50" y2="215.27"/><line x1="380.40" y1="223.75" x2="382.50" y2="223.75"/><line x1="380.40" y1="232.22" x2="382.50" y2="232.22"/><line x1="380.40" y1="240.70" x2="382.50" y2="240.70"/><line x1="380.40" y1="249.18" x2="382.50" y2="249.18"/><line x1="380.40" y1="257.66" x2="382.50" y2="257.66"/><line x1="380.40" y1="266.14" x2="382.50" y2="266.14"/><line x1="382.60" y1="269.70" x2="382.60" y2="271.80"/><line x1="392.64" y1="269.70" x2="392.64" y2="271.80"/><line x1="402.67" y1="269.70" x2="402.67" y2="271.80"/><line x1="412.71" y1="269.70" x2="412.71" y2="271.80"/><line x1="422.75" y1="269.70" x2="422.75" y2="271.80"/><line x1="432.79" y1="269.70" x2="432.79" y2="271.80"/><line x1="442.83" y1="269.70" x2="442.83" y2="271.80"/><line x1="452.87" y1="269.70" x2="452.87" y2="271.80"/><line x1="462.91" y1="269.70" x2="462.91" y2="271.80"/><line x1="472.95" y1="269.70" x2="472.95" y2="271.80"/><line x1="482.98" y1="269.70" x2="482.98" y2="271.80"/><line x1="493.02" y1="269.70" x2="493.02" y2="271.80"/><line x1="503.06" y1="269.70" x2="503.06" y2="271.80"/><line x1="513.10" y1="269.70" x2="513.10" y2="271.80"/><line x1="523.14" y1="269.70" x2="523.14" y2="271.80"/><line x1="533.18" y1="269.70" x2="533.18" y2="271.80"/><line x1="543.22" y1="269.70" x2="543.22" y2="271.80"/><line x1="553.26" y1="269.70" x2="553.26" y2="271.80"/><line x1="563.30" y1="269.70" x2="563.30" y2="271.80"/><line x1="573.33" y1="269.70" x2="573.33" y2="271.80"/><line x1="583.37" y1="269.70" x2="583.37" y2="271.80"/><line x1="593.41" y1="269.70" x2="593.41" y2="271.80"/><line x1="603.45" y1="269.70" x2="603.45" y2="271.80"/><line x1="613.49" y1="269.70" x2="613.49" y2="271.80"/><line x1="623.53" y1="269.70" x2="623.53" y2="271.80"/><line x1="633.57" y1="269.70" x2="633.57" y2="271.80"/></g>
<g font-size="8.40" letter-spacing="0.22" fill="#111" stroke="#111" stroke-width="0.15"><text x="378.50" y="14.15" text-anchor="end">0</text><text x="378.50" y="22.62" text-anchor="end">44</text><text x="378.50" y="31.10" text-anchor="end">88</text><text x="378.50" y="39.58" text-anchor="end">132</text><text x="378.50" y="48.06" text-anchor="end">176</text><text x="378.50" y="56.54" text-anchor="end">220</text><text x="378.50" y="65.01" text-anchor="end">264</text><text x="378.50" y="73.49" text-anchor="end">308</text><text x="378.50" y="81.97" text-anchor="end">352</text><text x="378.50" y="90.45" text-anchor="end">396</text><text x="378.50" y="98.93" text-anchor="end">440</text><text x="378.50" y="107.40" text-anchor="end">484</text><text x="378.50" y="115.88" text-anchor="end">528</text><text x="378.50" y="124.36" text-anchor="end">572</text><text x="378.50" y="132.84" text-anchor="end">616</text><text x="378.50" y="141.32" text-anchor="end">660</text><text x="378.50" y="149.79" text-anchor="end">704</text><text x="378.50" y="158.27" text-anchor="end">748</text><text x="378.50" y="166.75" text-anchor="end">792</text><text x="378.50" y="175.23" text-anchor="end">836</text><text x="378.50" y="183.71" text-anchor="end">880</text><text x="378.50" y="192.18" text-anchor="end">924</text><text x="378.50" y="200.66" text-anchor="end">968</text><text x="378.50" y="209.14" text-anchor="end">1012</text><text x="378.50" y="217.62" text-anchor="end">1056</text><text x="378.50" y="226.10" text-anchor="end">1100</text><text x="378.50" y="234.57" text-anchor="end">1144</text><text x="378.50" y="243.05" text-anchor="end">1188</text><text x="378.50" y="251.53" text-anchor="end">1232</text><text x="378.50" y="260.01" text-anchor="end">1276</text><text x="378.50" y="268.49" text-anchor="end">1320</text><text transform="translate(385.60,274.30) rotate(-90)" text-anchor="end">0</text><text transform="translate(395.64,274.30) rotate(-90)" text-anchor="end">52</text><text transform="translate(405.67,274.30) rotate(-90)" text-anchor="end">104</text><text transform="translate(415.71,274.30) rotate(-90)" text-anchor="end">156</text><text transform="translate(425.75,274.30) rotate(-90)" text-anchor="end">208</text><text transform="translate(435.79,274.30) rotate(-90)" text-anchor="end">260</text><text transform="translate(445.83,274.30) rotate(-90)" text-anchor="end">312</text><text transform="translate(455.87,274.30) rotate(-90)" text-anchor="end">364</text><text transform="translate(465.91,274.30) rotate(-90)" text-anchor="end">416</text><text transform="translate(475.95,274.30) rotate(-90)" text-anchor="end">468</text><text transform="translate(485.98,274.30) rotate(-90)" text-anchor="end">520</text><text transform="translate(496.02,274.30) rotate(-90)" text-anchor="end">572</text><text transform="translate(506.06,274.30) rotate(-90)" text-anchor="end">624</text><text transform="translate(516.10,274.30) rotate(-90)" text-anchor="end">676</text><text transform="translate(526.14,274.30) rotate(-90)" text-anchor="end">728</text><text transform="translate(536.18,274.30) rotate(-90)" text-anchor="end">780</text><text transform="translate(546.22,274.30) rotate(-90)" text-anchor="end">832</text><text transform="translate(556.26,274.30) rotate(-90)" text-anchor="end">884</text><text transform="translate(566.30,274.30) rotate(-90)" text-anchor="end">936</text><text transform="translate(576.33,274.30) rotate(-90)" text-anchor="end">988</text><text transform="translate(586.37,274.30) rotate(-90)" text-anchor="end">1040</text><text transform="translate(596.41,274.30) rotate(-90)" text-anchor="end">1092</text><text transform="translate(606.45,274.30) rotate(-90)" text-anchor="end">1144</text><text transform="translate(616.49,274.30) rotate(-90)" text-anchor="end">1196</text><text transform="translate(626.53,274.30) rotate(-90)" text-anchor="end">1248</text><text transform="translate(636.57,274.30) rotate(-90)" text-anchor="end">1300</text></g>
<text x="511.75" y="8.50" text-anchor="middle" font-size="10.20" letter-spacing="0.44" fill="#000">Average Frame Correlation - Domain 2</text>
<text x="511.75" y="302.50" text-anchor="middle" font-size="9.20" letter-spacing="0.12" fill="#000">Frame</text>
<text transform="translate(355.80,141.30) rotate(-90)" text-anchor="middle" font-size="9.20" letter-spacing="0.12" fill="#000">Frame</text>
<rect x="304.10" y="31.50" width="11.10" height="218.20" fill="url(#cbg)"/>
<g stroke="#222" stroke-width="0.7"><line x1="315.20" y1="249.70" x2="317.30" y2="249.70"/><line x1="315.20" y1="206.06" x2="317.30" y2="206.06"/><line x1="315.20" y1="162.42" x2="317.30" y2="162.42"/><line x1="315.20" y1="118.78" x2="317.30" y2="118.78"/><line x1="315.20" y1="75.14" x2="317.30" y2="75.14"/><line x1="315.20" y1="31.50" x2="317.30" y2="31.50"/></g>
<g font-size="8.40" letter-spacing="0.22" fill="#111" stroke="#111" stroke-width="0.15"><text x="319.40" y="252.90">0.0</text><text x="319.40" y="209.26">0.2</text><text x="319.40" y="165.62">0.4</text><text x="319.40" y="121.98">0.6</text><text x="319.40" y="78.34">0.8</text><text x="319.40" y="34.70">1.0</text></g>
<rect x="657.10" y="31.50" width="11.00" height="218.20" fill="url(#cbg)"/>
<g stroke="#222" stroke-width="0.7"><line x1="668.10" y1="249.70" x2="670.20" y2="249.70"/><line x1="668.10" y1="206.06" x2="670.20" y2="206.06"/><line x1="668.10" y1="162.42" x2="670.20" y2="162.42"/><line x1="668.10" y1="118.78" x2="670.20" y2="118.78"/><line x1="668.10" y1="75.14" x2="670.20" y2="75.14"/><line x1="668.10" y1="31.50" x2="670.20" y2="31.50"/></g>
<g font-size="8.40" letter-spacing="0.22" fill="#111" stroke="#111" stroke-width="0.15"><text x="672.30" y="252.90">0.0</text><text x="672.30" y="209.26">0.2</text><text x="672.30" y="165.62">0.4</text><text x="672.30" y="121.98">0.6</text><text x="672.30" y="78.34">0.8</text><text x="672.30" y="34.70">1.0</text></g></svg></body></html>
